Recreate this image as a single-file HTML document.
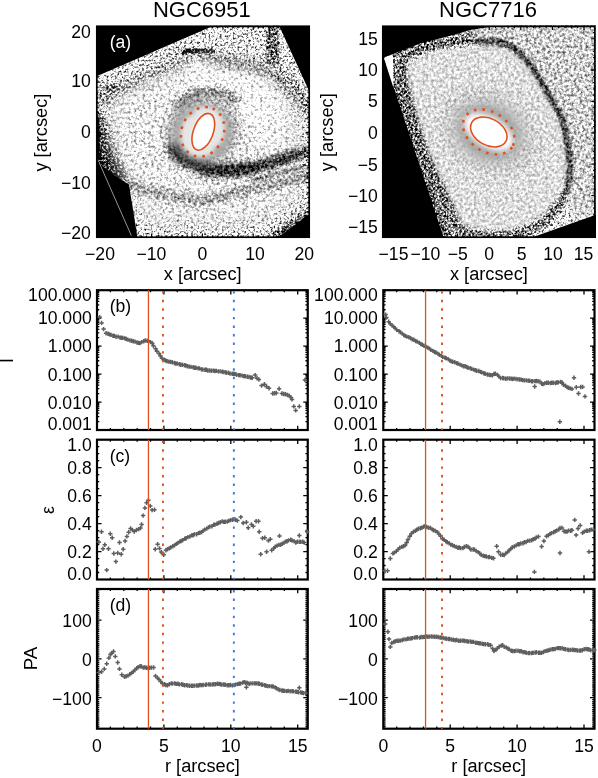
<!DOCTYPE html><html><head><meta charset="utf-8"><style>html,body{margin:0;padding:0;background:#fff;}svg{display:block;filter:blur(0.3px);}</style></head><body><svg width="598" height="778" viewBox="0 0 598 778" font-family='"Liberation Sans", sans-serif'><rect width="598" height="778" fill="#fff"/><defs><filter id="bl1" x="-50%" y="-50%" width="200%" height="200%"><feGaussianBlur stdDeviation="1"/></filter><filter id="bl2" x="-50%" y="-50%" width="200%" height="200%"><feGaussianBlur stdDeviation="2"/></filter><filter id="bl3" x="-50%" y="-50%" width="200%" height="200%"><feGaussianBlur stdDeviation="3"/></filter><filter id="bl5" x="-50%" y="-50%" width="200%" height="200%"><feGaussianBlur stdDeviation="5"/></filter><filter id="bl8" x="-50%" y="-50%" width="200%" height="200%"><feGaussianBlur stdDeviation="8"/></filter><filter id="bl12" x="-50%" y="-50%" width="200%" height="200%"><feGaussianBlur stdDeviation="12"/></filter></defs><defs><filter id="dLh" x="96" y="25.5" width="214" height="212.5" filterUnits="userSpaceOnUse" color-interpolation-filters="sRGB"><feTurbulence type="fractalNoise" baseFrequency="0.45" numOctaves="3" seed="5" result="n"/><feColorMatrix in="n" type="matrix" values="1 0 0 0 0 1 0 0 0 0 1 0 0 0 0 0 0 0 0 1" result="ng"/><feComposite in="SourceGraphic" in2="ng" operator="arithmetic" k1="0" k2="1" k3="1.5" k4="-0.75" result="s"/><feComponentTransfer in="s"><feFuncR type="linear" slope="1.8" intercept="-0.4"/><feFuncG type="linear" slope="1.8" intercept="-0.4"/><feFuncB type="linear" slope="1.8" intercept="-0.4"/><feFuncA type="linear" slope="0" intercept="1"/></feComponentTransfer><feGaussianBlur stdDeviation="0.5"/></filter><filter id="dLl" x="96" y="25.5" width="214" height="212.5" filterUnits="userSpaceOnUse" color-interpolation-filters="sRGB"><feTurbulence type="fractalNoise" baseFrequency="0.35" numOctaves="3" seed="6" result="n"/><feColorMatrix in="n" type="matrix" values="1 0 0 0 0 1 0 0 0 0 1 0 0 0 0 0 0 0 0 1" result="ng"/><feComposite in="SourceGraphic" in2="ng" operator="arithmetic" k1="0" k2="1" k3="1.0" k4="-0.5" result="s"/><feComponentTransfer in="s"><feFuncR type="linear" slope="1.5" intercept="-0.25"/><feFuncG type="linear" slope="1.5" intercept="-0.25"/><feFuncB type="linear" slope="1.5" intercept="-0.25"/><feFuncA type="linear" slope="0" intercept="1"/></feComponentTransfer><feGaussianBlur stdDeviation="0.5"/></filter><clipPath id="fpL"><polygon points="96,76.5 214,25.5 279,25.5 310,93 310,238 137.5,238 129,184.5 112,174 99,163 98.5,122 96,118"/></clipPath><clipPath id="boxL"><rect x="96" y="25.5" width="214" height="212.5"/></clipPath><radialGradient id="smLg" cx="0.5" cy="0.5" r="0.5"><stop offset="0.55" stop-color="#fff"/><stop offset="1" stop-color="#000"/></radialGradient><mask id="smL" maskUnits="userSpaceOnUse" x="96" y="25.5" width="214" height="212.5"><ellipse cx="203" cy="132" rx="44" ry="44" fill="url(#smLg)"/></mask><mask id="cmaskL" maskUnits="userSpaceOnUse" x="96" y="25.5" width="214" height="212.5"><polygon points="112,100 150,78 205,58 262,66 296,110 300,200 250,222 150,222 128,180 114,150" fill="#fff" filter="url(#bl8)"/></mask></defs><g clip-path="url(#boxL)"><rect x="96" y="25.5" width="214" height="212.5" fill="#000"/><g clip-path="url(#fpL)"><g filter="url(#dLh)"><rect x="96" y="25.5" width="214" height="212.5" fill="rgb(192,192,192)"/><path d="M100,100 L140,82 L185,62" fill="none" stroke="rgb(144,144,144)" stroke-width="16" stroke-linecap="round" stroke-linejoin="round" opacity="1" filter="url(#bl5)"/><path d="M105,90 L118,86" fill="none" stroke="rgb(102,102,102)" stroke-width="5" stroke-linecap="round" stroke-linejoin="round" opacity="1" filter="url(#bl2)"/><path d="M90,112 L104,118 L114,145 L130,184 L90,186Z" fill="rgb(97,97,97)" opacity="1" filter="url(#bl5)"/><path d="M90,145 L106,152 L118,160 L130,182 L90,190Z" fill="rgb(78,78,78)" opacity="1" filter="url(#bl3)"/><path d="M90,110 L98.5,112 L99.5,186 L90,186Z" fill="rgb(11,11,11)" opacity="1" filter="url(#bl1)"/><path d="M182,49 L214,49 L214,54 L182,54Z" fill="rgb(52,52,52)" opacity="1" filter="url(#bl1)"/><path d="M198,54 L215,54 L215,64 L198,64Z" fill="rgb(128,128,128)" opacity="1" filter="url(#bl2)"/><path d="M218,60 L250,66 L274,73 L295,92 L310,110" fill="none" stroke="rgb(141,141,141)" stroke-width="14" stroke-linecap="round" stroke-linejoin="round" opacity="1" filter="url(#bl5)"/><path d="M266,27 L279,27 L279,64 L266,64Z" fill="rgb(119,119,119)" opacity="1" filter="url(#bl1)"/><path d="M129,184 L157,194 L200,201 L246,191 L310,175" fill="none" stroke="rgb(136,136,136)" stroke-width="10" stroke-linecap="round" stroke-linejoin="round" opacity="1" filter="url(#bl3)"/><path d="M237,170 C255,168 280,160 310,151" fill="none" stroke="rgb(84,84,84)" stroke-width="9" stroke-linecap="round" stroke-linejoin="round" opacity="1" filter="url(#bl3)"/><path d="M252,181 L310,165" fill="none" stroke="rgb(108,108,108)" stroke-width="3" stroke-linecap="round" stroke-linejoin="round" opacity="1" filter="url(#bl1)"/><path d="M265,238 L310,208 L310,238Z" fill="rgb(102,102,102)" opacity="1" filter="url(#bl3)"/></g><g mask="url(#cmaskL)"><g filter="url(#dLl)"><rect x="96" y="25.5" width="214" height="212.5" fill="rgb(205,205,205)"/><path d="M185,61 L257,61 L283,80 L283,135 L230,140 L185,95Z" fill="rgb(218,218,218)" opacity="1" filter="url(#bl8)"/><path d="M129,184 L157,194 L200,201 L246,191 L310,175" fill="none" stroke="rgb(145,145,145)" stroke-width="9" stroke-linecap="round" stroke-linejoin="round" opacity="1" filter="url(#bl3)"/><path d="M205,170 C225,172 255,170 280,160 C292,156 302,153 310,151" fill="none" stroke="rgb(66,66,66)" stroke-width="11" stroke-linecap="round" stroke-linejoin="round" opacity="1" filter="url(#bl3)"/><path d="M252,181 L310,165" fill="none" stroke="rgb(111,111,111)" stroke-width="3" stroke-linecap="round" stroke-linejoin="round" opacity="1" filter="url(#bl1)"/><path d="M218,60 L250,66 L274,73 L295,92 L310,110" fill="none" stroke="rgb(148,148,148)" stroke-width="12" stroke-linecap="round" stroke-linejoin="round" opacity="1" filter="url(#bl5)"/><ellipse cx="0" cy="0" rx="40" ry="34" transform="translate(203,132) rotate(-20)" fill="rgb(166,166,166)" opacity="1" filter="url(#bl5)"/><path d="M180,103 C192,90 215,87 236,100" fill="none" stroke="rgb(131,131,131)" stroke-width="9" stroke-linecap="round" stroke-linejoin="round" opacity="1" filter="url(#bl3)"/><path d="M172,150 C185,168 215,174 250,168" fill="none" stroke="rgb(74,74,74)" stroke-width="10" stroke-linecap="round" stroke-linejoin="round" opacity="1" filter="url(#bl3)"/><ellipse cx="0" cy="0" rx="26" ry="22" transform="translate(202.7,131.8) rotate(-67)" fill="rgb(200,200,200)" opacity="1" filter="url(#bl2)"/><ellipse cx="0" cy="0" rx="19" ry="10.5" transform="translate(203.3,131.8) rotate(-70)" fill="rgb(255,255,255)" opacity="1" filter="url(#bl1)"/></g></g><g mask="url(#smL)"><ellipse cx="0" cy="0" rx="36" ry="33" transform="translate(200,134) rotate(-20)" fill="rgb(168,168,168)" opacity="1" filter="url(#bl5)"/><path d="M178,108 C188,92 212,86 238,100" fill="none" stroke="rgb(115,115,115)" stroke-width="10" stroke-linecap="round" stroke-linejoin="round" opacity="1" filter="url(#bl3)"/><path d="M174,148 C185,166 212,174 245,168" fill="none" stroke="rgb(64,64,64)" stroke-width="11" stroke-linecap="round" stroke-linejoin="round" opacity="1" filter="url(#bl3)"/><ellipse cx="0" cy="0" rx="26" ry="21.5" transform="translate(202.7,131.8) rotate(-67)" fill="rgb(230,230,230)" opacity="1" filter="url(#bl2)"/><ellipse cx="0" cy="0" rx="6" ry="4" transform="translate(188,112) rotate(0)" fill="rgb(178,178,178)" opacity="1" filter="url(#bl2)"/><ellipse cx="0" cy="0" rx="6" ry="4" transform="translate(220,150) rotate(0)" fill="rgb(166,166,166)" opacity="1" filter="url(#bl2)"/><ellipse cx="0" cy="0" rx="19" ry="10.5" transform="translate(203.3,131.8) rotate(-70)" fill="rgb(255,255,255)" opacity="1" filter="url(#bl1)"/></g></g><path d="M277,238 L310,213.8 L310,238Z" fill="#000"/><line x1="97.8" y1="159.5" x2="131.5" y2="236" stroke="#bbb" stroke-width="0.8"/><circle cx="198" cy="64.4" r="2.6" fill="#fff" filter="url(#bl1)"/><ellipse cx="0" cy="0" rx="19.2" ry="9.9" transform="translate(203.3,131.8) rotate(-70)" fill="none" stroke="#e0501e" stroke-width="1.6" opacity="1"/><ellipse cx="0" cy="0" rx="25.4" ry="21.0" transform="translate(202.65,131.84) rotate(-67)" fill="none" stroke="#e0501e" stroke-width="2.6" stroke-dasharray="2.6 6.0" opacity="1"/></g><defs><filter id="dRh" x="382" y="25.5" width="214" height="212.5" filterUnits="userSpaceOnUse" color-interpolation-filters="sRGB"><feTurbulence type="fractalNoise" baseFrequency="0.45" numOctaves="3" seed="9" result="n"/><feColorMatrix in="n" type="matrix" values="1 0 0 0 0 1 0 0 0 0 1 0 0 0 0 0 0 0 0 1" result="ng"/><feComposite in="SourceGraphic" in2="ng" operator="arithmetic" k1="0" k2="1" k3="1.5" k4="-0.75" result="s"/><feComponentTransfer in="s"><feFuncR type="linear" slope="1.8" intercept="-0.4"/><feFuncG type="linear" slope="1.8" intercept="-0.4"/><feFuncB type="linear" slope="1.8" intercept="-0.4"/><feFuncA type="linear" slope="0" intercept="1"/></feComponentTransfer><feGaussianBlur stdDeviation="0.5"/></filter><filter id="dRl" x="382" y="25.5" width="214" height="212.5" filterUnits="userSpaceOnUse" color-interpolation-filters="sRGB"><feTurbulence type="fractalNoise" baseFrequency="0.35" numOctaves="3" seed="10" result="n"/><feColorMatrix in="n" type="matrix" values="1 0 0 0 0 1 0 0 0 0 1 0 0 0 0 0 0 0 0 1" result="ng"/><feComposite in="SourceGraphic" in2="ng" operator="arithmetic" k1="0" k2="1" k3="0.6" k4="-0.3" result="s"/><feComponentTransfer in="s"><feFuncR type="linear" slope="1.3" intercept="-0.15000000000000002"/><feFuncG type="linear" slope="1.3" intercept="-0.15000000000000002"/><feFuncB type="linear" slope="1.3" intercept="-0.15000000000000002"/><feFuncA type="linear" slope="0" intercept="1"/></feComponentTransfer><feGaussianBlur stdDeviation="0.5"/></filter><filter id="dRm2" x="382" y="25.5" width="214" height="212.5" filterUnits="userSpaceOnUse" color-interpolation-filters="sRGB"><feTurbulence type="fractalNoise" baseFrequency="0.35" numOctaves="3" seed="12" result="n"/><feColorMatrix in="n" type="matrix" values="1 0 0 0 0 1 0 0 0 0 1 0 0 0 0 0 0 0 0 1" result="ng"/><feComposite in="SourceGraphic" in2="ng" operator="arithmetic" k1="0" k2="1" k3="1.0" k4="-0.5" result="s"/><feComponentTransfer in="s"><feFuncR type="linear" slope="1.5" intercept="-0.25"/><feFuncG type="linear" slope="1.5" intercept="-0.25"/><feFuncB type="linear" slope="1.5" intercept="-0.25"/><feFuncA type="linear" slope="0" intercept="1"/></feComponentTransfer><feGaussianBlur stdDeviation="0.5"/></filter><mask id="urR" maskUnits="userSpaceOnUse" x="382" y="25.5" width="214" height="212.5"><polygon points="470,20 600,20 600,210 575,215 560,160 548,105 520,60 480,48" fill="#fff" filter="url(#bl5)"/></mask><clipPath id="fpR"><polygon points="383.8,57.5 420,43.4 453,35 470,30 487,27.4 504,26 520,25 596,25 596,214.7 530.5,238 443.8,238"/></clipPath><clipPath id="boxR"><rect x="382" y="25.5" width="214" height="212.5"/></clipPath><radialGradient id="smRg" cx="0.5" cy="0.5" r="0.5"><stop offset="0.45" stop-color="#fff"/><stop offset="1" stop-color="#000"/></radialGradient><mask id="smR" maskUnits="userSpaceOnUse" x="382" y="25.5" width="214" height="212.5"><ellipse cx="489" cy="132" rx="50" ry="44" fill="url(#smRg)"/></mask><mask id="cmaskR" maskUnits="userSpaceOnUse" x="382" y="25.5" width="214" height="212.5"><path d="M402.0,62.0 C404.3,55.3 411.4,53.2 420.0,50.0 C428.6,46.8 442.0,43.9 453.6,42.5 C465.2,41.1 480.7,41.2 489.4,41.5 C498.1,41.8 500.4,41.5 506.0,44.0 C511.6,46.5 517.6,51.1 522.8,56.3 C528.0,61.5 532.4,68.0 537.0,75.0 C541.6,82.0 546.6,91.9 550.4,98.6 C554.2,105.3 557.4,108.9 560.0,115.0 C562.6,121.1 564.5,128.3 566.0,135.0 C567.5,141.7 568.5,147.8 569.0,155.0 C569.5,162.2 570.2,170.5 569.0,178.0 C567.8,185.5 565.5,193.3 562.0,200.0 C558.5,206.7 553.0,213.2 548.0,218.0 C543.0,222.8 538.3,226.2 532.0,229.0 C525.7,231.8 517.2,233.8 510.0,235.0 C502.8,236.2 496.3,237.0 489.0,236.5 C481.7,236.0 471.2,233.6 466.0,232.0 C460.8,230.4 460.5,230.7 458.0,227.0 C455.5,223.3 453.7,216.2 451.0,210.0 C448.3,203.8 445.2,196.8 442.0,190.0 C438.8,183.2 435.2,176.0 432.0,169.0 C428.8,162.0 426.0,156.5 423.0,148.0 C420.0,139.5 416.8,127.7 414.0,118.0 C411.2,108.3 408.0,99.3 406.0,90.0 C404.0,80.7 399.7,68.7 402.0,62.0Z" fill="#fff" transform="translate(490,140) scale(0.93) translate(-490,-140)" filter="url(#bl3)"/></mask></defs><g clip-path="url(#boxR)"><rect x="382" y="25.5" width="214" height="212.5" fill="#000"/><g clip-path="url(#fpR)"><g filter="url(#dRh)"><rect x="382" y="25.5" width="214" height="212.5" fill="rgb(194,194,194)"/><path d="M388,62 L398,95 L411,140 L429,190 L446,238" fill="none" stroke="rgb(115,115,115)" stroke-width="16" stroke-linecap="round" stroke-linejoin="round" opacity="1" filter="url(#bl3)"/><path d="M392,56 L440,40 L482,28" fill="none" stroke="rgb(136,136,136)" stroke-width="14" stroke-linecap="round" stroke-linejoin="round" opacity="1" filter="url(#bl3)"/><path d="M402.0,62.0 C404.3,55.3 411.4,53.2 420.0,50.0 C428.6,46.8 442.0,43.9 453.6,42.5 C465.2,41.1 480.7,41.2 489.4,41.5 C498.1,41.8 500.4,41.5 506.0,44.0 C511.6,46.5 517.6,51.1 522.8,56.3 C528.0,61.5 532.4,68.0 537.0,75.0 C541.6,82.0 546.6,91.9 550.4,98.6 C554.2,105.3 557.4,108.9 560.0,115.0 C562.6,121.1 564.5,128.3 566.0,135.0 C567.5,141.7 568.5,147.8 569.0,155.0 C569.5,162.2 570.2,170.5 569.0,178.0 C567.8,185.5 565.5,193.3 562.0,200.0 C558.5,206.7 553.0,213.2 548.0,218.0 C543.0,222.8 538.3,226.2 532.0,229.0 C525.7,231.8 517.2,233.8 510.0,235.0 C502.8,236.2 496.3,237.0 489.0,236.5 C481.7,236.0 471.2,233.6 466.0,232.0 C460.8,230.4 460.5,230.7 458.0,227.0 C455.5,223.3 453.7,216.2 451.0,210.0 C448.3,203.8 445.2,196.8 442.0,190.0 C438.8,183.2 435.2,176.0 432.0,169.0 C428.8,162.0 426.0,156.5 423.0,148.0 C420.0,139.5 416.8,127.7 414.0,118.0 C411.2,108.3 408.0,99.3 406.0,90.0 C404.0,80.7 399.7,68.7 402.0,62.0Z" fill="none" stroke="rgb(115,115,115)" stroke-width="6" filter="url(#bl1)"/><path d="M458.0,227.0 C456.8,224.2 453.7,216.2 451.0,210.0 C448.3,203.8 445.2,196.8 442.0,190.0 C438.8,183.2 435.2,176.0 432.0,169.0 C428.8,162.0 426.0,156.5 423.0,148.0 C420.0,139.5 416.8,127.7 414.0,118.0 C411.2,108.3 408.0,99.3 406.0,90.0 C404.0,80.7 402.7,66.7 402.0,62.0" fill="none" stroke="rgb(119,119,119)" stroke-width="12" filter="url(#bl2)"/><path d="M562.0,200.0 C559.7,203.0 553.0,213.2 548.0,218.0 C543.0,222.8 538.3,226.2 532.0,229.0 C525.7,231.8 517.2,233.8 510.0,235.0 C502.8,236.2 496.3,237.0 489.0,236.5 C481.7,236.0 471.2,233.6 466.0,232.0 C460.8,230.4 459.3,227.8 458.0,227.0" fill="none" stroke="rgb(128,128,128)" stroke-width="10" filter="url(#bl2)"/></g><g mask="url(#urR)"><g filter="url(#dRm2)"><rect x="382" y="25.5" width="214" height="212.5" fill="rgb(182,182,182)"/><path d="M402.0,62.0 C404.3,55.3 411.4,53.2 420.0,50.0 C428.6,46.8 442.0,43.9 453.6,42.5 C465.2,41.1 480.7,41.2 489.4,41.5 C498.1,41.8 500.4,41.5 506.0,44.0 C511.6,46.5 517.6,51.1 522.8,56.3 C528.0,61.5 532.4,68.0 537.0,75.0 C541.6,82.0 546.6,91.9 550.4,98.6 C554.2,105.3 557.4,108.9 560.0,115.0 C562.6,121.1 564.5,128.3 566.0,135.0 C567.5,141.7 568.5,147.8 569.0,155.0 C569.5,162.2 570.2,170.5 569.0,178.0 C567.8,185.5 565.5,193.3 562.0,200.0 C558.5,206.7 553.0,213.2 548.0,218.0 C543.0,222.8 538.3,226.2 532.0,229.0 C525.7,231.8 517.2,233.8 510.0,235.0 C502.8,236.2 496.3,237.0 489.0,236.5 C481.7,236.0 471.2,233.6 466.0,232.0 C460.8,230.4 460.5,230.7 458.0,227.0 C455.5,223.3 453.7,216.2 451.0,210.0 C448.3,203.8 445.2,196.8 442.0,190.0 C438.8,183.2 435.2,176.0 432.0,169.0 C428.8,162.0 426.0,156.5 423.0,148.0 C420.0,139.5 416.8,127.7 414.0,118.0 C411.2,108.3 408.0,99.3 406.0,90.0 C404.0,80.7 399.7,68.7 402.0,62.0Z" fill="none" stroke="rgb(93,93,93)" stroke-width="7" filter="url(#bl1)"/></g></g><g mask="url(#cmaskR)"><g filter="url(#dRl)"><rect x="382" y="25.5" width="214" height="212.5" fill="rgb(201,201,201)"/><ellipse cx="0" cy="0" rx="50" ry="38" transform="translate(489,132) rotate(30)" fill="rgb(183,183,183)" opacity="1" filter="url(#bl8)"/><ellipse cx="0" cy="0" rx="31" ry="23" transform="translate(489,132) rotate(32)" fill="rgb(163,163,163)" opacity="1" filter="url(#bl3)"/><ellipse cx="0" cy="0" rx="22" ry="15" transform="translate(488.8,132) rotate(30)" fill="rgb(255,255,255)" opacity="1" filter="url(#bl2)"/></g></g><g mask="url(#smR)"><ellipse cx="0" cy="0" rx="52" ry="40" transform="translate(489,132) rotate(30)" fill="rgb(204,204,204)" opacity="1" filter="url(#bl8)"/><ellipse cx="0" cy="0" rx="36" ry="27" transform="translate(489,132) rotate(32)" fill="rgb(163,163,163)" opacity="1" filter="url(#bl5)"/><ellipse cx="0" cy="0" rx="28" ry="15" transform="translate(488.8,132) rotate(31)" fill="rgb(255,255,255)" opacity="1" filter="url(#bl3)"/><ellipse cx="0" cy="0" rx="20" ry="13.5" transform="translate(488.8,132) rotate(29)" fill="rgb(255,255,255)" opacity="1" filter="url(#bl1)"/></g></g><path d="M383.8,57.5 L393,55.5 L393.5,88Z" fill="#fff"/><ellipse cx="0" cy="0" rx="19.5" ry="13.3" transform="translate(488.8,132) rotate(28.8)" fill="none" stroke="#e0501e" stroke-width="1.6" opacity="1"/><ellipse cx="0" cy="0" rx="27.9" ry="19.8" transform="translate(488.7,131.9) rotate(33.3)" fill="none" stroke="#e0501e" stroke-width="2.6" stroke-dasharray="2.6 6.0" opacity="1"/></g><path d="M100.80 237.20v-3.6M100.80 26.40v3.6M96.80 232.80h3.6M309.20 232.80h-3.6M105.88 237.20v-1.8M105.88 26.40v1.8M96.80 227.78h1.8M309.20 227.78h-1.8M110.96 237.20v-1.8M110.96 26.40v1.8M96.80 222.76h1.8M309.20 222.76h-1.8M116.04 237.20v-1.8M116.04 26.40v1.8M96.80 217.74h1.8M309.20 217.74h-1.8M121.12 237.20v-1.8M121.12 26.40v1.8M96.80 212.72h1.8M309.20 212.72h-1.8M126.20 237.20v-1.8M126.20 26.40v1.8M96.80 207.70h1.8M309.20 207.70h-1.8M131.28 237.20v-1.8M131.28 26.40v1.8M96.80 202.68h1.8M309.20 202.68h-1.8M136.36 237.20v-1.8M136.36 26.40v1.8M96.80 197.66h1.8M309.20 197.66h-1.8M141.44 237.20v-1.8M141.44 26.40v1.8M96.80 192.64h1.8M309.20 192.64h-1.8M146.52 237.20v-1.8M146.52 26.40v1.8M96.80 187.62h1.8M309.20 187.62h-1.8M151.60 237.20v-3.6M151.60 26.40v3.6M96.80 182.60h3.6M309.20 182.60h-3.6M156.68 237.20v-1.8M156.68 26.40v1.8M96.80 177.58h1.8M309.20 177.58h-1.8M161.76 237.20v-1.8M161.76 26.40v1.8M96.80 172.56h1.8M309.20 172.56h-1.8M166.84 237.20v-1.8M166.84 26.40v1.8M96.80 167.54h1.8M309.20 167.54h-1.8M171.92 237.20v-1.8M171.92 26.40v1.8M96.80 162.52h1.8M309.20 162.52h-1.8M177.00 237.20v-1.8M177.00 26.40v1.8M96.80 157.50h1.8M309.20 157.50h-1.8M182.08 237.20v-1.8M182.08 26.40v1.8M96.80 152.48h1.8M309.20 152.48h-1.8M187.16 237.20v-1.8M187.16 26.40v1.8M96.80 147.46h1.8M309.20 147.46h-1.8M192.24 237.20v-1.8M192.24 26.40v1.8M96.80 142.44h1.8M309.20 142.44h-1.8M197.32 237.20v-1.8M197.32 26.40v1.8M96.80 137.42h1.8M309.20 137.42h-1.8M202.40 237.20v-3.6M202.40 26.40v3.6M96.80 132.40h3.6M309.20 132.40h-3.6M207.48 237.20v-1.8M207.48 26.40v1.8M96.80 127.38h1.8M309.20 127.38h-1.8M212.56 237.20v-1.8M212.56 26.40v1.8M96.80 122.36h1.8M309.20 122.36h-1.8M217.64 237.20v-1.8M217.64 26.40v1.8M96.80 117.34h1.8M309.20 117.34h-1.8M222.72 237.20v-1.8M222.72 26.40v1.8M96.80 112.32h1.8M309.20 112.32h-1.8M227.80 237.20v-1.8M227.80 26.40v1.8M96.80 107.30h1.8M309.20 107.30h-1.8M232.88 237.20v-1.8M232.88 26.40v1.8M96.80 102.28h1.8M309.20 102.28h-1.8M237.96 237.20v-1.8M237.96 26.40v1.8M96.80 97.26h1.8M309.20 97.26h-1.8M243.04 237.20v-1.8M243.04 26.40v1.8M96.80 92.24h1.8M309.20 92.24h-1.8M248.12 237.20v-1.8M248.12 26.40v1.8M96.80 87.22h1.8M309.20 87.22h-1.8M253.20 237.20v-3.6M253.20 26.40v3.6M96.80 82.20h3.6M309.20 82.20h-3.6M258.28 237.20v-1.8M258.28 26.40v1.8M96.80 77.18h1.8M309.20 77.18h-1.8M263.36 237.20v-1.8M263.36 26.40v1.8M96.80 72.16h1.8M309.20 72.16h-1.8M268.44 237.20v-1.8M268.44 26.40v1.8M96.80 67.14h1.8M309.20 67.14h-1.8M273.52 237.20v-1.8M273.52 26.40v1.8M96.80 62.12h1.8M309.20 62.12h-1.8M278.60 237.20v-1.8M278.60 26.40v1.8M96.80 57.10h1.8M309.20 57.10h-1.8M283.68 237.20v-1.8M283.68 26.40v1.8M96.80 52.08h1.8M309.20 52.08h-1.8M288.76 237.20v-1.8M288.76 26.40v1.8M96.80 47.06h1.8M309.20 47.06h-1.8M293.84 237.20v-1.8M293.84 26.40v1.8M96.80 42.04h1.8M309.20 42.04h-1.8M298.92 237.20v-1.8M298.92 26.40v1.8M96.80 37.02h1.8M309.20 37.02h-1.8M304.00 237.20v-3.6M304.00 26.40v3.6M96.80 32.00h3.6M309.20 32.00h-3.6" stroke="#000" stroke-width="1.2" fill="none"/><rect x="96.80" y="26.40" width="212.40" height="210.80" fill="none" stroke="#000" stroke-width="1.7"/><path d="M388.08 237.20v-1.8M388.08 26.40v1.8M382.80 233.12h1.8M594.90 233.12h-1.8M394.40 237.20v-3.6M394.40 26.40v3.6M382.80 226.85h3.6M594.90 226.85h-3.6M400.72 237.20v-1.8M400.72 26.40v1.8M382.80 220.58h1.8M594.90 220.58h-1.8M407.04 237.20v-1.8M407.04 26.40v1.8M382.80 214.31h1.8M594.90 214.31h-1.8M413.36 237.20v-1.8M413.36 26.40v1.8M382.80 208.04h1.8M594.90 208.04h-1.8M419.68 237.20v-1.8M419.68 26.40v1.8M382.80 201.77h1.8M594.90 201.77h-1.8M426.00 237.20v-3.6M426.00 26.40v3.6M382.80 195.50h3.6M594.90 195.50h-3.6M432.32 237.20v-1.8M432.32 26.40v1.8M382.80 189.23h1.8M594.90 189.23h-1.8M438.64 237.20v-1.8M438.64 26.40v1.8M382.80 182.96h1.8M594.90 182.96h-1.8M444.96 237.20v-1.8M444.96 26.40v1.8M382.80 176.69h1.8M594.90 176.69h-1.8M451.28 237.20v-1.8M451.28 26.40v1.8M382.80 170.42h1.8M594.90 170.42h-1.8M457.60 237.20v-3.6M457.60 26.40v3.6M382.80 164.15h3.6M594.90 164.15h-3.6M463.92 237.20v-1.8M463.92 26.40v1.8M382.80 157.88h1.8M594.90 157.88h-1.8M470.24 237.20v-1.8M470.24 26.40v1.8M382.80 151.61h1.8M594.90 151.61h-1.8M476.56 237.20v-1.8M476.56 26.40v1.8M382.80 145.34h1.8M594.90 145.34h-1.8M482.88 237.20v-1.8M482.88 26.40v1.8M382.80 139.07h1.8M594.90 139.07h-1.8M489.20 237.20v-3.6M489.20 26.40v3.6M382.80 132.80h3.6M594.90 132.80h-3.6M495.52 237.20v-1.8M495.52 26.40v1.8M382.80 126.53h1.8M594.90 126.53h-1.8M501.84 237.20v-1.8M501.84 26.40v1.8M382.80 120.26h1.8M594.90 120.26h-1.8M508.16 237.20v-1.8M508.16 26.40v1.8M382.80 113.99h1.8M594.90 113.99h-1.8M514.48 237.20v-1.8M514.48 26.40v1.8M382.80 107.72h1.8M594.90 107.72h-1.8M520.80 237.20v-3.6M520.80 26.40v3.6M382.80 101.45h3.6M594.90 101.45h-3.6M527.12 237.20v-1.8M527.12 26.40v1.8M382.80 95.18h1.8M594.90 95.18h-1.8M533.44 237.20v-1.8M533.44 26.40v1.8M382.80 88.91h1.8M594.90 88.91h-1.8M539.76 237.20v-1.8M539.76 26.40v1.8M382.80 82.64h1.8M594.90 82.64h-1.8M546.08 237.20v-1.8M546.08 26.40v1.8M382.80 76.37h1.8M594.90 76.37h-1.8M552.40 237.20v-3.6M552.40 26.40v3.6M382.80 70.10h3.6M594.90 70.10h-3.6M558.72 237.20v-1.8M558.72 26.40v1.8M382.80 63.83h1.8M594.90 63.83h-1.8M565.04 237.20v-1.8M565.04 26.40v1.8M382.80 57.56h1.8M594.90 57.56h-1.8M571.36 237.20v-1.8M571.36 26.40v1.8M382.80 51.29h1.8M594.90 51.29h-1.8M577.68 237.20v-1.8M577.68 26.40v1.8M382.80 45.02h1.8M594.90 45.02h-1.8M584.00 237.20v-3.6M584.00 26.40v3.6M382.80 38.75h3.6M594.90 38.75h-3.6M590.32 237.20v-1.8M590.32 26.40v1.8M382.80 32.48h1.8M594.90 32.48h-1.8" stroke="#000" stroke-width="1.2" fill="none"/><rect x="382.80" y="26.40" width="212.10" height="210.80" fill="none" stroke="#000" stroke-width="1.7"/><text transform="translate(201.80,17.20) scale(1.0,1)" font-size="22" text-anchor="middle" fill="#000" >NGC6951</text><text transform="translate(488.00,17.20) scale(1.0,1)" font-size="22" text-anchor="middle" fill="#000" >NGC7716</text><text transform="translate(90.80,38.30) scale(1.0,1)" font-size="17.6" text-anchor="end" fill="#000" >20</text><text transform="translate(90.80,87.20) scale(1.0,1)" font-size="17.6" text-anchor="end" fill="#000" >10</text><text transform="translate(90.80,138.40) scale(1.0,1)" font-size="17.6" text-anchor="end" fill="#000" >0</text><text transform="translate(90.80,189.40) scale(1.0,1)" font-size="17.6" text-anchor="end" fill="#000" >−10</text><text transform="translate(90.80,238.80) scale(1.0,1)" font-size="17.6" text-anchor="end" fill="#000" >−20</text><text transform="translate(100.00,259.80) scale(1.0,1)" font-size="17.6" text-anchor="middle" fill="#000" >−20</text><text transform="translate(151.30,259.80) scale(1.0,1)" font-size="17.6" text-anchor="middle" fill="#000" >−10</text><text transform="translate(202.40,259.80) scale(1.0,1)" font-size="17.6" text-anchor="middle" fill="#000" >0</text><text transform="translate(255.00,259.80) scale(1.0,1)" font-size="17.6" text-anchor="middle" fill="#000" >10</text><text transform="translate(304.30,259.80) scale(1.0,1)" font-size="17.6" text-anchor="middle" fill="#000" >20</text><text transform="translate(202.70,280.00) scale(1.035,1)" font-size="17.6" text-anchor="middle" fill="#000" >x [arcsec]</text><text transform="translate(47.20,132.60) rotate(-90) scale(1.035,1)" font-size="17.6" text-anchor="middle" fill="#000" >y [arcsec]</text><text transform="translate(377.90,44.80) scale(1.0,1)" font-size="17.6" text-anchor="end" fill="#000" >15</text><text transform="translate(377.90,75.90) scale(1.0,1)" font-size="17.6" text-anchor="end" fill="#000" >10</text><text transform="translate(377.90,107.00) scale(1.0,1)" font-size="17.6" text-anchor="end" fill="#000" >5</text><text transform="translate(377.90,138.80) scale(1.0,1)" font-size="17.6" text-anchor="end" fill="#000" >0</text><text transform="translate(377.90,170.50) scale(1.0,1)" font-size="17.6" text-anchor="end" fill="#000" >−5</text><text transform="translate(377.90,201.70) scale(1.0,1)" font-size="17.6" text-anchor="end" fill="#000" >−10</text><text transform="translate(377.90,232.90) scale(1.0,1)" font-size="17.6" text-anchor="end" fill="#000" >−15</text><text transform="translate(393.50,259.80) scale(1.0,1)" font-size="17.6" text-anchor="middle" fill="#000" >−15</text><text transform="translate(425.30,259.80) scale(1.0,1)" font-size="17.6" text-anchor="middle" fill="#000" >−10</text><text transform="translate(457.70,259.80) scale(1.0,1)" font-size="17.6" text-anchor="middle" fill="#000" >−5</text><text transform="translate(489.20,259.80) scale(1.0,1)" font-size="17.6" text-anchor="middle" fill="#000" >0</text><text transform="translate(521.60,259.80) scale(1.0,1)" font-size="17.6" text-anchor="middle" fill="#000" >5</text><text transform="translate(553.00,259.80) scale(1.0,1)" font-size="17.6" text-anchor="middle" fill="#000" >10</text><text transform="translate(583.50,259.80) scale(1.0,1)" font-size="17.6" text-anchor="middle" fill="#000" >15</text><text transform="translate(488.90,280.00) scale(1.035,1)" font-size="17.6" text-anchor="middle" fill="#000" >x [arcsec]</text><text transform="translate(333.20,132.20) rotate(-90) scale(1.035,1)" font-size="17.6" text-anchor="middle" fill="#000" >y [arcsec]</text><path d="M163.90 430.00v-4.2M163.90 290.20v4.2M230.80 430.00v-4.2M230.80 290.20v4.2M297.70 430.00v-4.2M297.70 290.20v4.2M110.38 430.00v-2.1M110.38 290.20v2.1M123.76 430.00v-2.1M123.76 290.20v2.1M137.14 430.00v-2.1M137.14 290.20v2.1M150.52 430.00v-2.1M150.52 290.20v2.1M177.28 430.00v-2.1M177.28 290.20v2.1M190.66 430.00v-2.1M190.66 290.20v2.1M204.04 430.00v-2.1M204.04 290.20v2.1M217.42 430.00v-2.1M217.42 290.20v2.1M244.18 430.00v-2.1M244.18 290.20v2.1M257.56 430.00v-2.1M257.56 290.20v2.1M270.94 430.00v-2.1M270.94 290.20v2.1M284.32 430.00v-2.1M284.32 290.20v2.1M97.00 402.04h4.5M307.75 402.04h-4.5M97.00 374.08h4.5M307.75 374.08h-4.5M97.00 346.12h4.5M307.75 346.12h-4.5M97.00 318.16h4.5M307.75 318.16h-4.5M97.00 421.58h2.3M307.75 421.58h-2.3M97.00 416.66h2.3M307.75 416.66h-2.3M97.00 413.17h2.3M307.75 413.17h-2.3M97.00 410.46h2.3M307.75 410.46h-2.3M97.00 408.24h2.3M307.75 408.24h-2.3M97.00 406.37h2.3M307.75 406.37h-2.3M97.00 404.75h2.3M307.75 404.75h-2.3M97.00 403.32h2.3M307.75 403.32h-2.3M97.00 393.62h2.3M307.75 393.62h-2.3M97.00 388.70h2.3M307.75 388.70h-2.3M97.00 385.21h2.3M307.75 385.21h-2.3M97.00 382.50h2.3M307.75 382.50h-2.3M97.00 380.28h2.3M307.75 380.28h-2.3M97.00 378.41h2.3M307.75 378.41h-2.3M97.00 376.79h2.3M307.75 376.79h-2.3M97.00 375.36h2.3M307.75 375.36h-2.3M97.00 365.66h2.3M307.75 365.66h-2.3M97.00 360.74h2.3M307.75 360.74h-2.3M97.00 357.25h2.3M307.75 357.25h-2.3M97.00 354.54h2.3M307.75 354.54h-2.3M97.00 352.32h2.3M307.75 352.32h-2.3M97.00 350.45h2.3M307.75 350.45h-2.3M97.00 348.83h2.3M307.75 348.83h-2.3M97.00 347.40h2.3M307.75 347.40h-2.3M97.00 337.70h2.3M307.75 337.70h-2.3M97.00 332.78h2.3M307.75 332.78h-2.3M97.00 329.29h2.3M307.75 329.29h-2.3M97.00 326.58h2.3M307.75 326.58h-2.3M97.00 324.36h2.3M307.75 324.36h-2.3M97.00 322.49h2.3M307.75 322.49h-2.3M97.00 320.87h2.3M307.75 320.87h-2.3M97.00 319.44h2.3M307.75 319.44h-2.3M97.00 309.74h2.3M307.75 309.74h-2.3M97.00 304.82h2.3M307.75 304.82h-2.3M97.00 301.33h2.3M307.75 301.33h-2.3M97.00 298.62h2.3M307.75 298.62h-2.3M97.00 296.40h2.3M307.75 296.40h-2.3M97.00 294.53h2.3M307.75 294.53h-2.3M97.00 292.91h2.3M307.75 292.91h-2.3M97.00 291.48h2.3M307.75 291.48h-2.3" stroke="#000" stroke-width="1.3" fill="none"/><rect x="97.00" y="290.20" width="210.75" height="139.80" fill="none" stroke="#000" stroke-width="2.2"/><path d="M163.90 579.50v-4.2M163.90 439.70v4.2M230.80 579.50v-4.2M230.80 439.70v4.2M297.70 579.50v-4.2M297.70 439.70v4.2M110.38 579.50v-2.1M110.38 439.70v2.1M123.76 579.50v-2.1M123.76 439.70v2.1M137.14 579.50v-2.1M137.14 439.70v2.1M150.52 579.50v-2.1M150.52 439.70v2.1M177.28 579.50v-2.1M177.28 439.70v2.1M190.66 579.50v-2.1M190.66 439.70v2.1M204.04 579.50v-2.1M204.04 439.70v2.1M217.42 579.50v-2.1M217.42 439.70v2.1M244.18 579.50v-2.1M244.18 439.70v2.1M257.56 579.50v-2.1M257.56 439.70v2.1M270.94 579.50v-2.1M270.94 439.70v2.1M284.32 579.50v-2.1M284.32 439.70v2.1M97.00 551.54h4.5M307.75 551.54h-4.5M97.00 523.58h4.5M307.75 523.58h-4.5M97.00 495.62h4.5M307.75 495.62h-4.5M97.00 467.66h4.5M307.75 467.66h-4.5M97.00 572.51h2.3M307.75 572.51h-2.3M97.00 565.52h2.3M307.75 565.52h-2.3M97.00 558.53h2.3M307.75 558.53h-2.3M97.00 544.55h2.3M307.75 544.55h-2.3M97.00 537.56h2.3M307.75 537.56h-2.3M97.00 530.57h2.3M307.75 530.57h-2.3M97.00 516.59h2.3M307.75 516.59h-2.3M97.00 509.60h2.3M307.75 509.60h-2.3M97.00 502.61h2.3M307.75 502.61h-2.3M97.00 488.63h2.3M307.75 488.63h-2.3M97.00 481.64h2.3M307.75 481.64h-2.3M97.00 474.65h2.3M307.75 474.65h-2.3M97.00 460.67h2.3M307.75 460.67h-2.3M97.00 453.68h2.3M307.75 453.68h-2.3M97.00 446.69h2.3M307.75 446.69h-2.3" stroke="#000" stroke-width="1.3" fill="none"/><rect x="97.00" y="439.70" width="210.75" height="139.80" fill="none" stroke="#000" stroke-width="2.2"/><path d="M163.90 728.70v-4.2M163.90 589.00v4.2M230.80 728.70v-4.2M230.80 589.00v4.2M297.70 728.70v-4.2M297.70 589.00v4.2M110.38 728.70v-2.1M110.38 589.00v2.1M123.76 728.70v-2.1M123.76 589.00v2.1M137.14 728.70v-2.1M137.14 589.00v2.1M150.52 728.70v-2.1M150.52 589.00v2.1M177.28 728.70v-2.1M177.28 589.00v2.1M190.66 728.70v-2.1M190.66 589.00v2.1M204.04 728.70v-2.1M204.04 589.00v2.1M217.42 728.70v-2.1M217.42 589.00v2.1M244.18 728.70v-2.1M244.18 589.00v2.1M257.56 728.70v-2.1M257.56 589.00v2.1M270.94 728.70v-2.1M270.94 589.00v2.1M284.32 728.70v-2.1M284.32 589.00v2.1M97.00 697.66h4.5M307.75 697.66h-4.5M97.00 658.85h4.5M307.75 658.85h-4.5M97.00 620.04h4.5M307.75 620.04h-4.5M97.00 726.76h2.3M307.75 726.76h-2.3M97.00 724.82h2.3M307.75 724.82h-2.3M97.00 722.88h2.3M307.75 722.88h-2.3M97.00 720.94h2.3M307.75 720.94h-2.3M97.00 719.00h2.3M307.75 719.00h-2.3M97.00 717.06h2.3M307.75 717.06h-2.3M97.00 715.12h2.3M307.75 715.12h-2.3M97.00 713.18h2.3M307.75 713.18h-2.3M97.00 711.24h2.3M307.75 711.24h-2.3M97.00 709.30h2.3M307.75 709.30h-2.3M97.00 707.36h2.3M307.75 707.36h-2.3M97.00 705.42h2.3M307.75 705.42h-2.3M97.00 703.48h2.3M307.75 703.48h-2.3M97.00 701.54h2.3M307.75 701.54h-2.3M97.00 699.60h2.3M307.75 699.60h-2.3M97.00 695.72h2.3M307.75 695.72h-2.3M97.00 693.78h2.3M307.75 693.78h-2.3M97.00 691.83h2.3M307.75 691.83h-2.3M97.00 689.89h2.3M307.75 689.89h-2.3M97.00 687.95h2.3M307.75 687.95h-2.3M97.00 686.01h2.3M307.75 686.01h-2.3M97.00 684.07h2.3M307.75 684.07h-2.3M97.00 682.13h2.3M307.75 682.13h-2.3M97.00 680.19h2.3M307.75 680.19h-2.3M97.00 678.25h2.3M307.75 678.25h-2.3M97.00 676.31h2.3M307.75 676.31h-2.3M97.00 674.37h2.3M307.75 674.37h-2.3M97.00 672.43h2.3M307.75 672.43h-2.3M97.00 670.49h2.3M307.75 670.49h-2.3M97.00 668.55h2.3M307.75 668.55h-2.3M97.00 666.61h2.3M307.75 666.61h-2.3M97.00 664.67h2.3M307.75 664.67h-2.3M97.00 662.73h2.3M307.75 662.73h-2.3M97.00 660.79h2.3M307.75 660.79h-2.3M97.00 656.91h2.3M307.75 656.91h-2.3M97.00 654.97h2.3M307.75 654.97h-2.3M97.00 653.03h2.3M307.75 653.03h-2.3M97.00 651.09h2.3M307.75 651.09h-2.3M97.00 649.15h2.3M307.75 649.15h-2.3M97.00 647.21h2.3M307.75 647.21h-2.3M97.00 645.27h2.3M307.75 645.27h-2.3M97.00 643.33h2.3M307.75 643.33h-2.3M97.00 641.39h2.3M307.75 641.39h-2.3M97.00 639.45h2.3M307.75 639.45h-2.3M97.00 637.51h2.3M307.75 637.51h-2.3M97.00 635.57h2.3M307.75 635.57h-2.3M97.00 633.63h2.3M307.75 633.63h-2.3M97.00 631.69h2.3M307.75 631.69h-2.3M97.00 629.75h2.3M307.75 629.75h-2.3M97.00 627.81h2.3M307.75 627.81h-2.3M97.00 625.87h2.3M307.75 625.87h-2.3M97.00 623.92h2.3M307.75 623.92h-2.3M97.00 621.98h2.3M307.75 621.98h-2.3M97.00 618.10h2.3M307.75 618.10h-2.3M97.00 616.16h2.3M307.75 616.16h-2.3M97.00 614.22h2.3M307.75 614.22h-2.3M97.00 612.28h2.3M307.75 612.28h-2.3M97.00 610.34h2.3M307.75 610.34h-2.3M97.00 608.40h2.3M307.75 608.40h-2.3M97.00 606.46h2.3M307.75 606.46h-2.3M97.00 604.52h2.3M307.75 604.52h-2.3M97.00 602.58h2.3M307.75 602.58h-2.3M97.00 600.64h2.3M307.75 600.64h-2.3M97.00 598.70h2.3M307.75 598.70h-2.3M97.00 596.76h2.3M307.75 596.76h-2.3M97.00 594.82h2.3M307.75 594.82h-2.3M97.00 592.88h2.3M307.75 592.88h-2.3M97.00 590.94h2.3M307.75 590.94h-2.3" stroke="#000" stroke-width="1.3" fill="none"/><rect x="97.00" y="589.00" width="210.75" height="139.70" fill="none" stroke="#000" stroke-width="2.2"/><path d="M450.20 430.00v-4.2M450.20 290.20v4.2M517.10 430.00v-4.2M517.10 290.20v4.2M584.00 430.00v-4.2M584.00 290.20v4.2M396.68 430.00v-2.1M396.68 290.20v2.1M410.06 430.00v-2.1M410.06 290.20v2.1M423.44 430.00v-2.1M423.44 290.20v2.1M436.82 430.00v-2.1M436.82 290.20v2.1M463.58 430.00v-2.1M463.58 290.20v2.1M476.96 430.00v-2.1M476.96 290.20v2.1M490.34 430.00v-2.1M490.34 290.20v2.1M503.72 430.00v-2.1M503.72 290.20v2.1M530.48 430.00v-2.1M530.48 290.20v2.1M543.86 430.00v-2.1M543.86 290.20v2.1M557.24 430.00v-2.1M557.24 290.20v2.1M570.62 430.00v-2.1M570.62 290.20v2.1M383.30 402.04h4.5M594.50 402.04h-4.5M383.30 374.08h4.5M594.50 374.08h-4.5M383.30 346.12h4.5M594.50 346.12h-4.5M383.30 318.16h4.5M594.50 318.16h-4.5M383.30 421.58h2.3M594.50 421.58h-2.3M383.30 416.66h2.3M594.50 416.66h-2.3M383.30 413.17h2.3M594.50 413.17h-2.3M383.30 410.46h2.3M594.50 410.46h-2.3M383.30 408.24h2.3M594.50 408.24h-2.3M383.30 406.37h2.3M594.50 406.37h-2.3M383.30 404.75h2.3M594.50 404.75h-2.3M383.30 403.32h2.3M594.50 403.32h-2.3M383.30 393.62h2.3M594.50 393.62h-2.3M383.30 388.70h2.3M594.50 388.70h-2.3M383.30 385.21h2.3M594.50 385.21h-2.3M383.30 382.50h2.3M594.50 382.50h-2.3M383.30 380.28h2.3M594.50 380.28h-2.3M383.30 378.41h2.3M594.50 378.41h-2.3M383.30 376.79h2.3M594.50 376.79h-2.3M383.30 375.36h2.3M594.50 375.36h-2.3M383.30 365.66h2.3M594.50 365.66h-2.3M383.30 360.74h2.3M594.50 360.74h-2.3M383.30 357.25h2.3M594.50 357.25h-2.3M383.30 354.54h2.3M594.50 354.54h-2.3M383.30 352.32h2.3M594.50 352.32h-2.3M383.30 350.45h2.3M594.50 350.45h-2.3M383.30 348.83h2.3M594.50 348.83h-2.3M383.30 347.40h2.3M594.50 347.40h-2.3M383.30 337.70h2.3M594.50 337.70h-2.3M383.30 332.78h2.3M594.50 332.78h-2.3M383.30 329.29h2.3M594.50 329.29h-2.3M383.30 326.58h2.3M594.50 326.58h-2.3M383.30 324.36h2.3M594.50 324.36h-2.3M383.30 322.49h2.3M594.50 322.49h-2.3M383.30 320.87h2.3M594.50 320.87h-2.3M383.30 319.44h2.3M594.50 319.44h-2.3M383.30 309.74h2.3M594.50 309.74h-2.3M383.30 304.82h2.3M594.50 304.82h-2.3M383.30 301.33h2.3M594.50 301.33h-2.3M383.30 298.62h2.3M594.50 298.62h-2.3M383.30 296.40h2.3M594.50 296.40h-2.3M383.30 294.53h2.3M594.50 294.53h-2.3M383.30 292.91h2.3M594.50 292.91h-2.3M383.30 291.48h2.3M594.50 291.48h-2.3" stroke="#000" stroke-width="1.3" fill="none"/><rect x="383.30" y="290.20" width="211.20" height="139.80" fill="none" stroke="#000" stroke-width="2.2"/><path d="M450.20 579.50v-4.2M450.20 439.70v4.2M517.10 579.50v-4.2M517.10 439.70v4.2M584.00 579.50v-4.2M584.00 439.70v4.2M396.68 579.50v-2.1M396.68 439.70v2.1M410.06 579.50v-2.1M410.06 439.70v2.1M423.44 579.50v-2.1M423.44 439.70v2.1M436.82 579.50v-2.1M436.82 439.70v2.1M463.58 579.50v-2.1M463.58 439.70v2.1M476.96 579.50v-2.1M476.96 439.70v2.1M490.34 579.50v-2.1M490.34 439.70v2.1M503.72 579.50v-2.1M503.72 439.70v2.1M530.48 579.50v-2.1M530.48 439.70v2.1M543.86 579.50v-2.1M543.86 439.70v2.1M557.24 579.50v-2.1M557.24 439.70v2.1M570.62 579.50v-2.1M570.62 439.70v2.1M383.30 551.54h4.5M594.50 551.54h-4.5M383.30 523.58h4.5M594.50 523.58h-4.5M383.30 495.62h4.5M594.50 495.62h-4.5M383.30 467.66h4.5M594.50 467.66h-4.5M383.30 572.51h2.3M594.50 572.51h-2.3M383.30 565.52h2.3M594.50 565.52h-2.3M383.30 558.53h2.3M594.50 558.53h-2.3M383.30 544.55h2.3M594.50 544.55h-2.3M383.30 537.56h2.3M594.50 537.56h-2.3M383.30 530.57h2.3M594.50 530.57h-2.3M383.30 516.59h2.3M594.50 516.59h-2.3M383.30 509.60h2.3M594.50 509.60h-2.3M383.30 502.61h2.3M594.50 502.61h-2.3M383.30 488.63h2.3M594.50 488.63h-2.3M383.30 481.64h2.3M594.50 481.64h-2.3M383.30 474.65h2.3M594.50 474.65h-2.3M383.30 460.67h2.3M594.50 460.67h-2.3M383.30 453.68h2.3M594.50 453.68h-2.3M383.30 446.69h2.3M594.50 446.69h-2.3" stroke="#000" stroke-width="1.3" fill="none"/><rect x="383.30" y="439.70" width="211.20" height="139.80" fill="none" stroke="#000" stroke-width="2.2"/><path d="M450.20 728.70v-4.2M450.20 589.00v4.2M517.10 728.70v-4.2M517.10 589.00v4.2M584.00 728.70v-4.2M584.00 589.00v4.2M396.68 728.70v-2.1M396.68 589.00v2.1M410.06 728.70v-2.1M410.06 589.00v2.1M423.44 728.70v-2.1M423.44 589.00v2.1M436.82 728.70v-2.1M436.82 589.00v2.1M463.58 728.70v-2.1M463.58 589.00v2.1M476.96 728.70v-2.1M476.96 589.00v2.1M490.34 728.70v-2.1M490.34 589.00v2.1M503.72 728.70v-2.1M503.72 589.00v2.1M530.48 728.70v-2.1M530.48 589.00v2.1M543.86 728.70v-2.1M543.86 589.00v2.1M557.24 728.70v-2.1M557.24 589.00v2.1M570.62 728.70v-2.1M570.62 589.00v2.1M383.30 697.66h4.5M594.50 697.66h-4.5M383.30 658.85h4.5M594.50 658.85h-4.5M383.30 620.04h4.5M594.50 620.04h-4.5M383.30 726.76h2.3M594.50 726.76h-2.3M383.30 724.82h2.3M594.50 724.82h-2.3M383.30 722.88h2.3M594.50 722.88h-2.3M383.30 720.94h2.3M594.50 720.94h-2.3M383.30 719.00h2.3M594.50 719.00h-2.3M383.30 717.06h2.3M594.50 717.06h-2.3M383.30 715.12h2.3M594.50 715.12h-2.3M383.30 713.18h2.3M594.50 713.18h-2.3M383.30 711.24h2.3M594.50 711.24h-2.3M383.30 709.30h2.3M594.50 709.30h-2.3M383.30 707.36h2.3M594.50 707.36h-2.3M383.30 705.42h2.3M594.50 705.42h-2.3M383.30 703.48h2.3M594.50 703.48h-2.3M383.30 701.54h2.3M594.50 701.54h-2.3M383.30 699.60h2.3M594.50 699.60h-2.3M383.30 695.72h2.3M594.50 695.72h-2.3M383.30 693.78h2.3M594.50 693.78h-2.3M383.30 691.83h2.3M594.50 691.83h-2.3M383.30 689.89h2.3M594.50 689.89h-2.3M383.30 687.95h2.3M594.50 687.95h-2.3M383.30 686.01h2.3M594.50 686.01h-2.3M383.30 684.07h2.3M594.50 684.07h-2.3M383.30 682.13h2.3M594.50 682.13h-2.3M383.30 680.19h2.3M594.50 680.19h-2.3M383.30 678.25h2.3M594.50 678.25h-2.3M383.30 676.31h2.3M594.50 676.31h-2.3M383.30 674.37h2.3M594.50 674.37h-2.3M383.30 672.43h2.3M594.50 672.43h-2.3M383.30 670.49h2.3M594.50 670.49h-2.3M383.30 668.55h2.3M594.50 668.55h-2.3M383.30 666.61h2.3M594.50 666.61h-2.3M383.30 664.67h2.3M594.50 664.67h-2.3M383.30 662.73h2.3M594.50 662.73h-2.3M383.30 660.79h2.3M594.50 660.79h-2.3M383.30 656.91h2.3M594.50 656.91h-2.3M383.30 654.97h2.3M594.50 654.97h-2.3M383.30 653.03h2.3M594.50 653.03h-2.3M383.30 651.09h2.3M594.50 651.09h-2.3M383.30 649.15h2.3M594.50 649.15h-2.3M383.30 647.21h2.3M594.50 647.21h-2.3M383.30 645.27h2.3M594.50 645.27h-2.3M383.30 643.33h2.3M594.50 643.33h-2.3M383.30 641.39h2.3M594.50 641.39h-2.3M383.30 639.45h2.3M594.50 639.45h-2.3M383.30 637.51h2.3M594.50 637.51h-2.3M383.30 635.57h2.3M594.50 635.57h-2.3M383.30 633.63h2.3M594.50 633.63h-2.3M383.30 631.69h2.3M594.50 631.69h-2.3M383.30 629.75h2.3M594.50 629.75h-2.3M383.30 627.81h2.3M594.50 627.81h-2.3M383.30 625.87h2.3M594.50 625.87h-2.3M383.30 623.92h2.3M594.50 623.92h-2.3M383.30 621.98h2.3M594.50 621.98h-2.3M383.30 618.10h2.3M594.50 618.10h-2.3M383.30 616.16h2.3M594.50 616.16h-2.3M383.30 614.22h2.3M594.50 614.22h-2.3M383.30 612.28h2.3M594.50 612.28h-2.3M383.30 610.34h2.3M594.50 610.34h-2.3M383.30 608.40h2.3M594.50 608.40h-2.3M383.30 606.46h2.3M594.50 606.46h-2.3M383.30 604.52h2.3M594.50 604.52h-2.3M383.30 602.58h2.3M594.50 602.58h-2.3M383.30 600.64h2.3M594.50 600.64h-2.3M383.30 598.70h2.3M594.50 598.70h-2.3M383.30 596.76h2.3M594.50 596.76h-2.3M383.30 594.82h2.3M594.50 594.82h-2.3M383.30 592.88h2.3M594.50 592.88h-2.3M383.30 590.94h2.3M594.50 590.94h-2.3" stroke="#000" stroke-width="1.3" fill="none"/><rect x="383.30" y="589.00" width="211.20" height="139.70" fill="none" stroke="#000" stroke-width="2.2"/><path d="M97.4 317.1h4.4M99.6 314.9v4.4M99.4 322.9h4.4M101.6 320.7v4.4M101.4 329.1h4.4M103.6 326.9v4.4M103.9 333.2h4.4M106.1 331.0v4.4M105.9 333.8h4.4M108.1 331.6v4.4M107.3 334.4h4.4M109.5 332.2v4.4M108.8 334.9h4.4M111.0 332.7v4.4M110.8 335.7h4.4M113.0 333.5v4.4M112.2 335.9h4.4M114.4 333.7v4.4M113.9 336.7h4.4M116.1 334.5v4.4M115.9 336.6h4.4M118.1 334.4v4.4M117.8 337.6h4.4M120.0 335.4v4.4M119.3 337.8h4.4M121.5 335.6v4.4M120.7 337.9h4.4M122.9 335.7v4.4M122.6 338.4h4.4M124.8 336.2v4.4M124.1 339.0h4.4M126.3 336.8v4.4M125.7 339.6h4.4M127.9 337.4v4.4M127.7 340.4h4.4M129.9 338.2v4.4M129.4 340.7h4.4M131.6 338.5v4.4M131.1 341.3h4.4M133.3 339.1v4.4M132.8 341.6h4.4M135.0 339.4v4.4M134.8 342.5h4.4M137.0 340.3v4.4M136.4 342.9h4.4M138.6 340.7v4.4M137.8 343.1h4.4M140.0 340.9v4.4M139.5 342.1h4.4M141.7 339.9v4.4M141.5 341.3h4.4M143.7 339.1v4.4M143.2 340.5h4.4M145.4 338.3v4.4M145.0 340.9h4.4M147.2 338.7v4.4M146.1 340.8h4.4M148.3 338.6v4.4M148.3 342.1h4.4M150.5 339.9v4.4M150.1 343.3h4.4M152.3 341.1v4.4M151.2 345.7h4.4M153.4 343.5v4.4M153.4 348.8h4.4M155.6 346.6v4.4M154.7 351.2h4.4M156.9 349.0v4.4M156.9 353.6h4.4M159.1 351.4v4.4M158.1 355.7h4.4M160.3 353.5v4.4M159.8 358.2h4.4M162.0 356.0v4.4M161.9 359.8h4.4M164.1 357.6v4.4M163.4 360.5h4.4M165.6 358.3v4.4M164.9 361.2h4.4M167.1 359.0v4.4M166.6 361.6h4.4M168.8 359.4v4.4M168.3 361.9h4.4M170.5 359.7v4.4M170.0 362.3h4.4M172.2 360.1v4.4M172.2 363.0h4.4M174.4 360.8v4.4M173.5 363.5h4.4M175.7 361.3v4.4M175.1 363.6h4.4M177.3 361.4v4.4M177.2 364.2h4.4M179.4 362.0v4.4M178.5 364.8h4.4M180.7 362.6v4.4M180.2 364.8h4.4M182.4 362.6v4.4M182.3 365.3h4.4M184.5 363.1v4.4M183.7 365.5h4.4M185.9 363.3v4.4M185.3 366.3h4.4M187.5 364.1v4.4M187.0 366.6h4.4M189.2 364.4v4.4M188.8 366.9h4.4M191.0 364.7v4.4M190.9 367.2h4.4M193.1 365.0v4.4M192.3 367.8h4.4M194.5 365.6v4.4M193.8 367.7h4.4M196.0 365.5v4.4M195.9 368.4h4.4M198.1 366.2v4.4M197.2 368.4h4.4M199.4 366.2v4.4M199.2 369.2h4.4M201.4 367.0v4.4M200.6 369.6h4.4M202.8 367.4v4.4M202.7 369.8h4.4M204.9 367.6v4.4M204.2 369.8h4.4M206.4 367.6v4.4M205.6 370.5h4.4M207.8 368.3v4.4M207.4 370.5h4.4M209.6 368.3v4.4M209.2 370.7h4.4M211.4 368.5v4.4M211.1 370.6h4.4M213.3 368.4v4.4M212.5 371.0h4.4M214.7 368.8v4.4M214.1 370.9h4.4M216.3 368.7v4.4M216.1 371.4h4.4M218.3 369.2v4.4M217.9 371.4h4.4M220.1 369.2v4.4M219.8 371.6h4.4M222.0 369.4v4.4M220.9 372.0h4.4M223.1 369.8v4.4M222.9 372.2h4.4M225.1 370.0v4.4M224.4 372.7h4.4M226.6 370.5v4.4M226.3 372.8h4.4M228.5 370.6v4.4M227.9 373.6h4.4M230.1 371.4v4.4M230.0 373.8h4.4M232.2 371.6v4.4M231.5 374.0h4.4M233.7 371.8v4.4M232.9 374.0h4.4M235.1 371.8v4.4M234.5 374.8h4.4M236.7 372.6v4.4M236.6 375.1h4.4M238.8 372.9v4.4M237.9 375.3h4.4M240.1 373.1v4.4M239.9 375.6h4.4M242.1 373.4v4.4M241.5 376.1h4.4M243.7 373.9v4.4M243.0 376.2h4.4M245.2 374.0v4.4M245.1 376.7h4.4M247.3 374.5v4.4M246.8 377.0h4.4M249.0 374.8v4.4M248.6 377.5h4.4M250.8 375.3v4.4M250.0 377.7h4.4M252.2 375.5v4.4M253.0 375.1h4.4M255.2 372.9v4.4M254.8 378.3h4.4M257.0 376.1v4.4M256.7 379.5h4.4M258.9 377.3v4.4M259.4 385.6h4.4M261.6 383.4v4.4M262.2 384.3h4.4M264.4 382.1v4.4M264.3 386.5h4.4M266.5 384.3v4.4M266.8 388.3h4.4M269.0 386.1v4.4M270.5 393.5h4.4M272.7 391.3v4.4M272.3 393.2h4.4M274.5 391.0v4.4M274.1 393.0h4.4M276.3 390.8v4.4M276.9 388.7h4.4M279.1 386.5v4.4M279.7 393.5h4.4M281.9 391.3v4.4M281.5 394.0h4.4M283.7 391.8v4.4M283.3 394.2h4.4M285.5 392.0v4.4M285.2 395.0h4.4M287.4 392.8v4.4M287.0 395.7h4.4M289.2 393.5v4.4M288.8 397.5h4.4M291.0 395.3v4.4M289.8 399.4h4.4M292.0 397.2v4.4M291.6 406.4h4.4M293.8 404.2v4.4M293.5 410.4h4.4M295.7 408.2v4.4M297.1 406.4h4.4M299.3 404.2v4.4M302.7 380.0h4.4M304.9 377.8v4.4" stroke="#5e5e5e" stroke-width="1.5" fill="none"/><path d="M383.4 314.6h4.4M385.6 312.4v4.4M384.1 317.6h4.4M386.3 315.4v4.4M386.5 321.7h4.4M388.7 319.5v4.4M388.0 323.8h4.4M390.2 321.6v4.4M389.9 325.5h4.4M392.1 323.3v4.4M391.5 326.8h4.4M393.7 324.6v4.4M393.1 328.4h4.4M395.3 326.2v4.4M394.5 329.8h4.4M396.7 327.6v4.4M396.8 331.2h4.4M399.0 329.0v4.4M398.3 332.2h4.4M400.5 330.0v4.4M400.0 333.6h4.4M402.2 331.4v4.4M401.6 335.0h4.4M403.8 332.8v4.4M403.1 335.9h4.4M405.3 333.7v4.4M404.7 336.6h4.4M406.9 334.4v4.4M406.7 337.2h4.4M408.9 335.0v4.4M408.5 338.2h4.4M410.7 336.0v4.4M410.2 339.4h4.4M412.4 337.2v4.4M411.7 339.7h4.4M413.9 337.5v4.4M413.4 341.0h4.4M415.6 338.8v4.4M415.0 341.6h4.4M417.2 339.4v4.4M417.1 342.9h4.4M419.3 340.7v4.4M418.6 344.0h4.4M420.8 341.8v4.4M420.2 344.8h4.4M422.4 342.6v4.4M421.8 345.7h4.4M424.0 343.5v4.4M423.9 346.9h4.4M426.1 344.7v4.4M425.6 347.6h4.4M427.8 345.4v4.4M427.1 348.6h4.4M429.3 346.4v4.4M428.6 349.7h4.4M430.8 347.5v4.4M430.7 350.9h4.4M432.9 348.7v4.4M432.3 352.0h4.4M434.5 349.8v4.4M433.8 352.5h4.4M436.0 350.3v4.4M435.6 353.6h4.4M437.8 351.4v4.4M437.1 354.7h4.4M439.3 352.5v4.4M439.1 355.7h4.4M441.3 353.5v4.4M440.6 356.9h4.4M442.8 354.7v4.4M442.7 357.6h4.4M444.9 355.4v4.4M443.8 358.3h4.4M446.0 356.1v4.4M446.0 359.3h4.4M448.2 357.1v4.4M447.6 360.5h4.4M449.8 358.3v4.4M449.1 361.4h4.4M451.3 359.2v4.4M450.6 361.7h4.4M452.8 359.5v4.4M452.6 362.3h4.4M454.8 360.1v4.4M454.5 363.1h4.4M456.7 360.9v4.4M455.8 363.7h4.4M458.0 361.5v4.4M457.8 364.6h4.4M460.0 362.4v4.4M459.5 365.4h4.4M461.7 363.2v4.4M461.3 366.2h4.4M463.5 364.0v4.4M462.9 366.3h4.4M465.1 364.1v4.4M464.5 367.0h4.4M466.7 364.8v4.4M465.9 367.8h4.4M468.1 365.6v4.4M468.0 368.2h4.4M470.2 366.0v4.4M469.5 368.9h4.4M471.7 366.7v4.4M471.4 369.6h4.4M473.6 367.4v4.4M473.1 370.3h4.4M475.3 368.1v4.4M474.6 370.8h4.4M476.8 368.6v4.4M476.6 371.0h4.4M478.8 368.8v4.4M478.4 371.9h4.4M480.6 369.7v4.4M479.6 372.4h4.4M481.8 370.2v4.4M481.6 373.3h4.4M483.8 371.1v4.4M483.1 373.8h4.4M485.3 371.6v4.4M485.1 374.5h4.4M487.3 372.3v4.4M486.9 374.7h4.4M489.1 372.5v4.4M488.4 375.1h4.4M490.6 372.9v4.4M490.1 375.2h4.4M492.3 373.0v4.4M491.8 374.0h4.4M494.0 371.8v4.4M493.2 373.7h4.4M495.4 371.5v4.4M495.4 375.0h4.4M497.6 372.8v4.4M496.8 376.6h4.4M499.0 374.4v4.4M498.4 378.1h4.4M500.6 375.9v4.4M500.4 378.0h4.4M502.6 375.8v4.4M501.6 378.3h4.4M503.8 376.1v4.4M503.6 378.7h4.4M505.8 376.5v4.4M505.3 378.4h4.4M507.5 376.2v4.4M507.2 378.5h4.4M509.4 376.3v4.4M508.9 378.6h4.4M511.1 376.4v4.4M510.3 379.0h4.4M512.5 376.8v4.4M511.9 378.6h4.4M514.1 376.4v4.4M513.8 379.0h4.4M516.0 376.8v4.4M515.7 379.3h4.4M517.9 377.1v4.4M517.5 379.5h4.4M519.7 377.3v4.4M519.2 379.6h4.4M521.4 377.4v4.4M520.4 380.1h4.4M522.6 377.9v4.4M522.2 380.4h4.4M524.4 378.2v4.4M524.1 380.4h4.4M526.3 378.2v4.4M525.9 380.6h4.4M528.1 378.4v4.4M527.3 380.7h4.4M529.5 378.5v4.4M529.3 381.2h4.4M531.5 379.0v4.4M530.6 381.3h4.4M532.8 379.1v4.4M532.8 381.1h4.4M535.0 378.9v4.4M534.2 381.0h4.4M536.4 378.8v4.4M535.9 381.3h4.4M538.1 379.1v4.4M537.7 381.6h4.4M539.9 379.4v4.4M539.6 383.7h4.4M541.8 381.5v4.4M540.9 384.1h4.4M543.1 381.9v4.4M542.7 383.3h4.4M544.9 381.1v4.4M544.5 382.8h4.4M546.7 380.6v4.4M546.1 382.8h4.4M548.3 380.6v4.4M548.1 383.1h4.4M550.3 380.9v4.4M549.4 382.8h4.4M551.6 380.6v4.4M551.0 382.8h4.4M553.2 380.6v4.4M553.1 383.0h4.4M555.3 380.8v4.4M554.6 382.5h4.4M556.8 380.3v4.4M556.1 382.4h4.4M558.3 380.2v4.4M558.3 381.9h4.4M560.5 379.7v4.4M559.9 382.4h4.4M562.1 380.2v4.4M561.2 384.7h4.4M563.4 382.5v4.4M563.2 385.8h4.4M565.4 383.6v4.4M564.7 387.0h4.4M566.9 384.8v4.4M566.3 387.8h4.4M568.5 385.6v4.4M568.0 388.4h4.4M570.2 386.2v4.4M569.8 388.9h4.4M572.0 386.7v4.4M532.5 386.5h4.4M534.7 384.3v4.4M571.8 377.8h4.4M574.0 375.6v4.4M574.1 387.2h4.4M576.3 385.0v4.4M576.3 393.5h4.4M578.5 391.3v4.4M578.5 387.0h4.4M580.7 384.8v4.4M580.4 386.9h4.4M582.6 384.7v4.4M582.8 396.4h4.4M585.0 394.2v4.4M557.6 421.8h4.4M559.8 419.6v4.4" stroke="#5e5e5e" stroke-width="1.5" fill="none"/><path d="M96.6 541.9h4.4M98.8 539.7v4.4M99.3 531.8h4.4M101.5 529.6v4.4M100.8 548.7h4.4M103.0 546.5v4.4M102.6 544.7h4.4M104.8 542.5v4.4M104.5 570.1h4.4M106.7 567.9v4.4M106.3 548.7h4.4M108.5 546.5v4.4M108.1 533.7h4.4M110.3 531.5v4.4M110.0 537.7h4.4M112.2 535.5v4.4M111.6 553.5h4.4M113.8 551.3v4.4M113.7 561.6h4.4M115.9 559.4v4.4M115.5 553.0h4.4M117.7 550.8v4.4M117.3 542.5h4.4M119.5 540.3v4.4M119.0 554.3h4.4M121.2 552.1v4.4M121.0 549.3h4.4M123.2 547.1v4.4M122.9 541.0h4.4M125.1 538.8v4.4M124.7 536.4h4.4M126.9 534.2v4.4M126.5 532.2h4.4M128.7 530.0v4.4M128.4 528.5h4.4M130.6 526.3v4.4M130.2 530.0h4.4M132.4 527.8v4.4M132.1 531.5h4.4M134.3 529.3v4.4M134.3 530.0h4.4M136.5 527.8v4.4M136.5 529.1h4.4M138.7 526.9v4.4M138.3 528.1h4.4M140.5 525.9v4.4M139.4 524.5h4.4M141.6 522.3v4.4M140.9 515.6h4.4M143.1 513.4v4.4M142.7 507.9h4.4M144.9 505.7v4.4M144.4 502.8h4.4M146.6 500.6v4.4M146.2 500.2h4.4M148.4 498.0v4.4M148.1 506.1h4.4M150.3 503.9v4.4M149.9 510.1h4.4M152.1 507.9v4.4M152.3 509.7h4.4M154.5 507.5v4.4M153.0 549.3h4.4M155.2 547.1v4.4M155.4 544.3h4.4M157.6 542.1v4.4M157.3 548.4h4.4M159.5 546.2v4.4M159.1 552.1h4.4M161.3 549.9v4.4M160.3 553.5h4.4M162.5 551.3v4.4M161.5 554.8h4.4M163.7 552.6v4.4M238.6 517.1h4.4M240.8 514.9v4.4M241.0 523.0h4.4M243.2 520.8v4.4M244.2 522.3h4.4M246.4 520.1v4.4M246.0 527.8h4.4M248.2 525.6v4.4M249.3 524.5h4.4M251.5 522.3v4.4M251.1 526.3h4.4M253.3 524.1v4.4M253.9 521.2h4.4M256.1 519.0v4.4M256.3 521.2h4.4M258.5 519.0v4.4M257.0 531.8h4.4M259.2 529.6v4.4M260.3 538.3h4.4M262.5 536.1v4.4M262.6 537.7h4.4M264.8 535.5v4.4M266.2 540.6h4.4M268.4 538.4v4.4M268.1 539.2h4.4M270.3 537.0v4.4M258.5 554.3h4.4M260.7 552.1v4.4M264.4 551.7h4.4M266.6 549.5v4.4M269.5 550.2h4.4M271.7 548.0v4.4M277.3 535.9h4.4M279.5 533.7v4.4M297.1 535.5h4.4M299.3 533.3v4.4M304.9 531.8h4.4M307.1 529.6v4.4M163.7 550.2h4.4M165.9 548.0v4.4M165.3 549.3h4.4M167.5 547.1v4.4M167.1 548.3h4.4M169.3 546.1v4.4M168.6 547.5h4.4M170.8 545.3v4.4M170.6 546.3h4.4M172.8 544.1v4.4M172.4 545.2h4.4M174.6 543.0v4.4M174.1 543.9h4.4M176.3 541.7v4.4M175.7 543.1h4.4M177.9 540.9v4.4M177.5 541.6h4.4M179.7 539.4v4.4M178.9 541.0h4.4M181.1 538.8v4.4M180.5 540.2h4.4M182.7 538.0v4.4M182.6 538.8h4.4M184.8 536.6v4.4M183.9 538.3h4.4M186.1 536.1v4.4M185.7 537.1h4.4M187.9 534.9v4.4M187.7 536.5h4.4M189.9 534.3v4.4M189.4 535.4h4.4M191.6 533.2v4.4M190.8 535.2h4.4M193.0 533.0v4.4M192.3 534.3h4.4M194.5 532.1v4.4M194.4 534.2h4.4M196.6 532.0v4.4M196.3 533.1h4.4M198.5 530.9v4.4M197.7 532.8h4.4M199.9 530.6v4.4M199.4 532.1h4.4M201.6 529.9v4.4M200.9 530.8h4.4M203.1 528.6v4.4M202.6 529.6h4.4M204.8 527.4v4.4M204.5 528.6h4.4M206.7 526.4v4.4M206.2 527.4h4.4M208.4 525.2v4.4M207.7 526.6h4.4M209.9 524.4v4.4M209.8 526.2h4.4M212.0 524.0v4.4M211.6 524.8h4.4M213.8 522.6v4.4M212.7 524.6h4.4M214.9 522.4v4.4M214.7 523.8h4.4M216.9 521.6v4.4M216.3 523.0h4.4M218.5 520.8v4.4M218.1 522.3h4.4M220.3 520.1v4.4M219.9 521.4h4.4M222.1 519.2v4.4M221.6 521.9h4.4M223.8 519.7v4.4M223.0 521.7h4.4M225.2 519.5v4.4M225.0 521.6h4.4M227.2 519.4v4.4M226.4 520.9h4.4M228.6 518.7v4.4M228.3 520.1h4.4M230.5 517.9v4.4M230.2 519.8h4.4M232.4 517.6v4.4M231.8 519.2h4.4M234.0 517.0v4.4M233.5 519.7h4.4M235.7 517.5v4.4M235.2 520.6h4.4M237.4 518.4v4.4M271.7 548.2h4.4M273.9 546.0v4.4M273.0 546.7h4.4M275.2 544.5v4.4M274.9 545.6h4.4M277.1 543.4v4.4M276.7 544.9h4.4M278.9 542.7v4.4M278.4 544.7h4.4M280.6 542.5v4.4M280.0 543.8h4.4M282.2 541.6v4.4M281.8 542.7h4.4M284.0 540.5v4.4M283.4 541.6h4.4M285.6 539.4v4.4M284.9 541.2h4.4M287.1 539.0v4.4M286.4 540.4h4.4M288.6 538.2v4.4M288.5 539.8h4.4M290.7 537.6v4.4M289.9 540.5h4.4M292.1 538.3v4.4M291.9 541.3h4.4M294.1 539.1v4.4M293.6 542.5h4.4M295.8 540.3v4.4M295.2 541.7h4.4M297.4 539.5v4.4M297.2 541.7h4.4M299.4 539.5v4.4M298.7 541.9h4.4M300.9 539.7v4.4M300.6 541.7h4.4M302.8 539.5v4.4M302.1 542.6h4.4M304.3 540.4v4.4" stroke="#5e5e5e" stroke-width="1.5" fill="none"/><path d="M382.6 570.8h4.4M384.8 568.6v4.4M385.3 570.8h4.4M387.5 568.6v4.4M388.1 558.5h4.4M390.3 556.3v4.4M494.5 546.2h4.4M496.7 544.0v4.4M496.3 551.7h4.4M498.5 549.5v4.4M532.2 571.9h4.4M534.4 569.7v4.4M539.4 546.5h4.4M541.6 544.3v4.4M541.7 541.0h4.4M543.9 538.8v4.4M557.8 553.0h4.4M560.0 550.8v4.4M572.5 519.9h4.4M574.7 517.7v4.4M586.8 551.7h4.4M589.0 549.5v4.4M573.9 535.1h4.4M576.1 532.9v4.4M575.8 528.5h4.4M578.0 526.3v4.4M578.0 525.4h4.4M580.2 523.2v4.4M580.4 532.7h4.4M582.6 530.5v4.4M390.7 553.4h4.4M392.9 551.2v4.4M392.2 552.6h4.4M394.4 550.4v4.4M394.1 551.3h4.4M396.3 549.1v4.4M395.8 549.4h4.4M398.0 547.2v4.4M397.6 547.8h4.4M399.8 545.6v4.4M399.6 546.9h4.4M401.8 544.7v4.4M401.3 546.3h4.4M403.5 544.1v4.4M402.9 545.4h4.4M405.1 543.2v4.4M404.5 542.6h4.4M406.7 540.4v4.4M405.8 539.5h4.4M408.0 537.3v4.4M407.6 536.2h4.4M409.8 534.0v4.4M409.3 533.5h4.4M411.5 531.3v4.4M411.3 531.8h4.4M413.5 529.6v4.4M413.2 530.7h4.4M415.4 528.5v4.4M414.6 529.7h4.4M416.8 527.5v4.4M416.2 528.8h4.4M418.4 526.6v4.4M418.1 528.3h4.4M420.3 526.1v4.4M419.6 527.7h4.4M421.8 525.5v4.4M421.3 526.7h4.4M423.5 524.5v4.4M422.9 526.1h4.4M425.1 523.9v4.4M424.6 527.0h4.4M426.8 524.8v4.4M426.4 527.7h4.4M428.6 525.5v4.4M428.3 527.9h4.4M430.5 525.7v4.4M430.2 529.4h4.4M432.4 527.2v4.4M431.3 530.3h4.4M433.5 528.1v4.4M433.3 531.0h4.4M435.5 528.8v4.4M435.3 532.2h4.4M437.5 530.0v4.4M436.7 533.9h4.4M438.9 531.7v4.4M438.5 536.3h4.4M440.7 534.1v4.4M440.4 538.9h4.4M442.6 536.7v4.4M441.9 539.8h4.4M444.1 537.6v4.4M443.6 541.3h4.4M445.8 539.1v4.4M445.0 542.2h4.4M447.2 540.0v4.4M446.9 543.2h4.4M449.1 541.0v4.4M448.6 544.6h4.4M450.8 542.4v4.4M450.3 545.2h4.4M452.5 543.0v4.4M452.0 546.1h4.4M454.2 543.9v4.4M453.9 546.9h4.4M456.1 544.7v4.4M455.7 547.8h4.4M457.9 545.6v4.4M457.2 547.5h4.4M459.4 545.3v4.4M458.6 548.1h4.4M460.8 545.9v4.4M460.7 548.1h4.4M462.9 545.9v4.4M462.1 547.0h4.4M464.3 544.8v4.4M464.0 546.2h4.4M466.2 544.0v4.4M465.7 546.6h4.4M467.9 544.4v4.4M467.5 548.2h4.4M469.7 546.0v4.4M468.8 549.6h4.4M471.0 547.4v4.4M470.9 549.5h4.4M473.1 547.3v4.4M472.1 549.5h4.4M474.3 547.3v4.4M474.0 551.0h4.4M476.2 548.8v4.4M475.9 552.1h4.4M478.1 549.9v4.4M477.5 553.3h4.4M479.7 551.1v4.4M479.0 554.9h4.4M481.2 552.7v4.4M480.9 555.7h4.4M483.1 553.5v4.4M482.5 556.1h4.4M484.7 553.9v4.4M484.1 556.5h4.4M486.3 554.3v4.4M486.1 557.1h4.4M488.3 554.9v4.4M487.4 557.0h4.4M489.6 554.8v4.4M489.6 557.9h4.4M491.8 555.7v4.4M491.3 558.3h4.4M493.5 556.1v4.4M498.5 554.7h4.4M500.7 552.5v4.4M500.4 554.7h4.4M502.6 552.5v4.4M502.0 555.1h4.4M504.2 552.9v4.4M503.5 553.4h4.4M505.7 551.2v4.4M505.4 552.0h4.4M507.6 549.8v4.4M507.0 550.2h4.4M509.2 548.0v4.4M508.5 549.1h4.4M510.7 546.9v4.4M510.1 547.3h4.4M512.3 545.1v4.4M512.1 546.5h4.4M514.3 544.3v4.4M513.9 545.4h4.4M516.1 543.2v4.4M515.7 544.3h4.4M517.9 542.1v4.4M517.0 544.2h4.4M519.2 542.0v4.4M518.6 543.5h4.4M520.8 541.3v4.4M520.7 543.3h4.4M522.9 541.1v4.4M522.2 542.3h4.4M524.4 540.1v4.4M523.9 542.0h4.4M526.1 539.8v4.4M525.6 540.9h4.4M527.8 538.7v4.4M527.5 540.6h4.4M529.7 538.4v4.4M529.4 540.2h4.4M531.6 538.0v4.4M531.0 539.3h4.4M533.2 537.1v4.4M532.7 538.7h4.4M534.9 536.5v4.4M534.1 537.5h4.4M536.3 535.3v4.4M536.2 536.6h4.4M538.4 534.4v4.4M544.3 536.3h4.4M546.5 534.1v4.4M546.1 535.2h4.4M548.3 533.0v4.4M547.8 534.0h4.4M550.0 531.8v4.4M549.4 533.1h4.4M551.6 530.9v4.4M551.5 532.2h4.4M553.7 530.0v4.4M553.2 531.3h4.4M555.4 529.1v4.4M554.5 530.6h4.4M556.7 528.4v4.4M556.6 529.5h4.4M558.8 527.3v4.4M557.8 527.9h4.4M560.0 525.7v4.4M559.8 527.9h4.4M562.0 525.7v4.4M561.8 531.3h4.4M564.0 529.1v4.4M563.4 531.6h4.4M565.6 529.4v4.4M564.9 531.6h4.4M567.1 529.4v4.4M566.4 530.6h4.4M568.6 528.4v4.4M568.4 530.7h4.4M570.6 528.5v4.4M569.8 530.2h4.4M572.0 528.0v4.4M582.1 531.6h4.4M584.3 529.4v4.4M584.1 530.8h4.4M586.3 528.6v4.4M585.5 530.7h4.4M587.7 528.5v4.4M587.4 530.3h4.4M589.6 528.1v4.4M589.0 529.6h4.4M591.2 527.4v4.4M591.1 529.5h4.4M593.3 527.3v4.4" stroke="#5e5e5e" stroke-width="1.5" fill="none"/><path d="M96.6 672.6h4.4M98.8 670.4v4.4M99.3 671.7h4.4M101.5 669.5v4.4M102.1 668.9h4.4M104.3 666.7v4.4M104.5 663.8h4.4M106.7 661.6v4.4M106.7 657.9h4.4M108.9 655.7v4.4M108.3 654.5h4.4M110.5 652.3v4.4M109.4 653.3h4.4M111.6 651.1v4.4M111.3 651.5h4.4M113.5 649.3v4.4M113.1 656.4h4.4M115.3 654.2v4.4M115.5 662.5h4.4M117.7 660.3v4.4M117.3 668.9h4.4M119.5 666.7v4.4M119.6 674.8h4.4M121.8 672.6v4.4M122.3 676.7h4.4M124.5 674.5v4.4M244.2 687.3h4.4M246.4 685.1v4.4M297.1 687.7h4.4M299.3 685.5v4.4M124.0 676.2h4.4M126.2 674.0v4.4M125.8 675.6h4.4M128.0 673.4v4.4M127.6 674.2h4.4M129.8 672.0v4.4M129.3 673.0h4.4M131.5 670.8v4.4M131.0 671.7h4.4M133.2 669.5v4.4M132.7 670.0h4.4M134.9 667.8v4.4M134.5 668.2h4.4M136.7 666.0v4.4M135.9 667.3h4.4M138.1 665.1v4.4M137.8 666.3h4.4M140.0 664.1v4.4M139.3 666.5h4.4M141.5 664.3v4.4M141.1 667.6h4.4M143.3 665.4v4.4M142.6 667.4h4.4M144.8 665.2v4.4M144.2 667.8h4.4M146.4 665.6v4.4M146.0 668.3h4.4M148.2 666.1v4.4M147.5 667.7h4.4M149.7 665.5v4.4M149.3 667.6h4.4M151.5 665.4v4.4M151.4 667.5h4.4M153.6 665.3v4.4M153.3 675.9h4.4M155.5 673.7v4.4M155.4 678.0h4.4M157.6 675.8v4.4M156.7 679.4h4.4M158.9 677.2v4.4M158.5 681.4h4.4M160.7 679.2v4.4M160.2 683.6h4.4M162.4 681.4v4.4M162.2 684.3h4.4M164.4 682.1v4.4M163.6 685.0h4.4M165.8 682.8v4.4M165.3 685.2h4.4M167.5 683.0v4.4M167.1 684.3h4.4M169.3 682.1v4.4M169.1 683.4h4.4M171.3 681.2v4.4M170.5 683.6h4.4M172.7 681.4v4.4M172.5 683.4h4.4M174.7 681.2v4.4M174.0 683.9h4.4M176.2 681.7v4.4M175.7 683.7h4.4M177.9 681.5v4.4M177.1 684.4h4.4M179.3 682.2v4.4M179.3 684.3h4.4M181.5 682.1v4.4M180.8 684.7h4.4M183.0 682.5v4.4M182.4 685.3h4.4M184.6 683.1v4.4M184.3 685.1h4.4M186.5 682.9v4.4M185.6 685.5h4.4M187.8 683.3v4.4M187.5 685.8h4.4M189.7 683.6v4.4M189.4 685.8h4.4M191.6 683.6v4.4M190.8 685.7h4.4M193.0 683.5v4.4M192.6 685.6h4.4M194.8 683.4v4.4M194.6 685.5h4.4M196.8 683.3v4.4M196.2 685.5h4.4M198.4 683.3v4.4M197.7 685.0h4.4M199.9 682.8v4.4M199.3 685.1h4.4M201.5 682.9v4.4M200.9 685.0h4.4M203.1 682.8v4.4M203.1 684.9h4.4M205.3 682.7v4.4M204.3 684.5h4.4M206.5 682.3v4.4M206.4 684.4h4.4M208.6 682.2v4.4M208.0 684.5h4.4M210.2 682.3v4.4M210.0 684.5h4.4M212.2 682.3v4.4M211.6 684.2h4.4M213.8 682.0v4.4M213.3 684.2h4.4M215.5 682.0v4.4M215.1 683.8h4.4M217.3 681.6v4.4M216.7 683.9h4.4M218.9 681.7v4.4M218.2 684.3h4.4M220.4 682.1v4.4M219.7 684.6h4.4M221.9 682.4v4.4M221.5 684.5h4.4M223.7 682.3v4.4M223.0 684.7h4.4M225.2 682.5v4.4M225.0 685.2h4.4M227.2 683.0v4.4M226.6 685.2h4.4M228.8 683.0v4.4M228.2 685.0h4.4M230.4 682.8v4.4M230.1 685.4h4.4M232.3 683.2v4.4M232.0 685.1h4.4M234.2 682.9v4.4M233.2 684.6h4.4M235.4 682.4v4.4M235.3 684.1h4.4M237.5 681.9v4.4M236.9 683.8h4.4M239.1 681.6v4.4M238.3 683.6h4.4M240.5 681.4v4.4M240.5 682.6h4.4M242.7 680.4v4.4M242.1 682.1h4.4M244.3 679.9v4.4M243.6 682.7h4.4M245.8 680.5v4.4M245.3 683.0h4.4M247.5 680.8v4.4M247.0 683.7h4.4M249.2 681.5v4.4M248.7 683.4h4.4M250.9 681.2v4.4M250.6 683.4h4.4M252.8 681.2v4.4M252.5 683.4h4.4M254.7 681.2v4.4M254.0 683.4h4.4M256.2 681.2v4.4M255.8 683.5h4.4M258.0 681.3v4.4M257.1 683.8h4.4M259.3 681.6v4.4M259.1 684.5h4.4M261.3 682.3v4.4M260.5 684.7h4.4M262.7 682.5v4.4M262.6 685.3h4.4M264.8 683.1v4.4M263.9 685.7h4.4M266.1 683.5v4.4M265.6 686.1h4.4M267.8 683.9v4.4M267.4 686.1h4.4M269.6 683.9v4.4M269.5 686.4h4.4M271.7 684.2v4.4M270.9 686.5h4.4M273.1 684.3v4.4M272.8 687.4h4.4M275.0 685.2v4.4M274.2 688.3h4.4M276.4 686.1v4.4M275.9 689.2h4.4M278.1 687.0v4.4M277.6 690.0h4.4M279.8 687.8v4.4M279.7 690.5h4.4M281.9 688.3v4.4M281.2 690.8h4.4M283.4 688.6v4.4M282.5 690.9h4.4M284.7 688.7v4.4M284.4 691.1h4.4M286.6 688.9v4.4M286.0 690.9h4.4M288.2 688.7v4.4M287.9 691.2h4.4M290.1 689.0v4.4M289.8 691.1h4.4M292.0 688.9v4.4M291.1 691.4h4.4M293.3 689.2v4.4M293.2 691.6h4.4M295.4 689.4v4.4M294.6 691.8h4.4M296.8 689.6v4.4M296.2 692.2h4.4M298.4 690.0v4.4M298.4 692.4h4.4M300.6 690.2v4.4M299.9 692.8h4.4M302.1 690.6v4.4M301.3 693.1h4.4M303.5 690.9v4.4M303.3 692.9h4.4M305.5 690.7v4.4" stroke="#5e5e5e" stroke-width="1.5" fill="none"/><path d="M383.1 623.9h4.4M385.3 621.7v4.4M385.7 631.8h4.4M387.9 629.6v4.4M386.8 639.1h4.4M389.0 636.9v4.4M388.1 646.9h4.4M390.3 644.7v4.4M389.6 643.0h4.4M391.8 640.8v4.4M391.6 642.0h4.4M393.8 639.8v4.4M393.2 641.2h4.4M395.4 639.0v4.4M394.9 640.7h4.4M397.1 638.5v4.4M396.5 640.8h4.4M398.7 638.6v4.4M398.2 640.6h4.4M400.4 638.4v4.4M400.1 640.0h4.4M402.3 637.8v4.4M401.8 639.4h4.4M404.0 637.2v4.4M403.7 639.4h4.4M405.9 637.2v4.4M405.4 638.8h4.4M407.6 636.6v4.4M406.7 638.6h4.4M408.9 636.4v4.4M408.5 638.5h4.4M410.7 636.3v4.4M410.1 638.1h4.4M412.3 635.9v4.4M412.2 637.6h4.4M414.4 635.4v4.4M413.7 637.4h4.4M415.9 635.2v4.4M415.1 637.3h4.4M417.3 635.1v4.4M417.4 637.6h4.4M419.6 635.4v4.4M418.9 637.0h4.4M421.1 634.8v4.4M420.6 637.1h4.4M422.8 634.9v4.4M422.1 636.9h4.4M424.3 634.7v4.4M424.1 636.4h4.4M426.3 634.2v4.4M425.4 636.7h4.4M427.6 634.5v4.4M427.1 636.6h4.4M429.3 634.4v4.4M429.0 636.5h4.4M431.2 634.3v4.4M430.7 636.6h4.4M432.9 634.4v4.4M432.4 636.7h4.4M434.6 634.5v4.4M434.2 636.8h4.4M436.4 634.6v4.4M435.9 637.0h4.4M438.1 634.8v4.4M437.8 637.5h4.4M440.0 635.3v4.4M439.2 637.6h4.4M441.4 635.4v4.4M441.0 638.0h4.4M443.2 635.8v4.4M442.8 638.4h4.4M445.0 636.2v4.4M444.3 638.8h4.4M446.5 636.6v4.4M446.2 639.0h4.4M448.4 636.8v4.4M447.6 639.0h4.4M449.8 636.8v4.4M449.4 639.6h4.4M451.6 637.4v4.4M451.1 639.7h4.4M453.3 637.5v4.4M452.8 640.2h4.4M455.0 638.0v4.4M454.4 640.0h4.4M456.6 637.8v4.4M456.3 640.7h4.4M458.5 638.5v4.4M458.0 640.7h4.4M460.2 638.5v4.4M459.8 640.6h4.4M462.0 638.4v4.4M461.4 640.6h4.4M463.6 638.4v4.4M462.8 641.0h4.4M465.0 638.8v4.4M464.7 641.2h4.4M466.9 639.0v4.4M466.1 641.6h4.4M468.3 639.4v4.4M468.1 641.5h4.4M470.3 639.3v4.4M469.7 641.9h4.4M471.9 639.7v4.4M471.3 641.9h4.4M473.5 639.7v4.4M473.4 642.7h4.4M475.6 640.5v4.4M475.0 642.9h4.4M477.2 640.7v4.4M476.6 643.2h4.4M478.8 641.0v4.4M478.1 643.4h4.4M480.3 641.2v4.4M480.0 643.8h4.4M482.2 641.6v4.4M481.5 644.1h4.4M483.7 641.9v4.4M483.2 644.3h4.4M485.4 642.1v4.4M485.4 644.3h4.4M487.6 642.1v4.4M486.6 644.9h4.4M488.8 642.7v4.4M488.4 645.3h4.4M490.6 643.1v4.4M490.4 648.6h4.4M492.6 646.4v4.4M491.8 651.1h4.4M494.0 648.9v4.4M493.7 649.7h4.4M495.9 647.5v4.4M495.0 648.5h4.4M497.2 646.3v4.4M496.9 646.8h4.4M499.1 644.6v4.4M499.0 645.6h4.4M501.2 643.4v4.4M500.4 645.2h4.4M502.6 643.0v4.4M502.0 646.8h4.4M504.2 644.6v4.4M504.0 647.5h4.4M506.2 645.3v4.4M505.7 648.5h4.4M507.9 646.3v4.4M507.2 649.4h4.4M509.4 647.2v4.4M509.1 650.8h4.4M511.3 648.6v4.4M510.4 651.0h4.4M512.6 648.8v4.4M512.1 651.1h4.4M514.3 648.9v4.4M513.7 650.7h4.4M515.9 648.5v4.4M515.8 650.8h4.4M518.0 648.6v4.4M517.6 651.3h4.4M519.8 649.1v4.4M519.2 651.3h4.4M521.4 649.1v4.4M520.9 652.2h4.4M523.1 650.0v4.4M522.5 652.1h4.4M524.7 649.9v4.4M524.0 652.7h4.4M526.2 650.5v4.4M526.0 653.1h4.4M528.2 650.9v4.4M527.4 653.0h4.4M529.6 650.8v4.4M529.4 653.1h4.4M531.6 650.9v4.4M530.9 652.8h4.4M533.1 650.6v4.4M532.9 652.6h4.4M535.1 650.4v4.4M534.2 652.3h4.4M536.4 650.1v4.4M536.4 652.7h4.4M538.6 650.5v4.4M537.7 652.8h4.4M539.9 650.6v4.4M539.3 652.9h4.4M541.5 650.7v4.4M541.2 652.0h4.4M543.4 649.8v4.4M542.9 651.1h4.4M545.1 648.9v4.4M544.7 650.7h4.4M546.9 648.5v4.4M546.2 650.4h4.4M548.4 648.2v4.4M547.8 649.7h4.4M550.0 647.5v4.4M549.9 649.3h4.4M552.1 647.1v4.4M551.3 649.1h4.4M553.5 646.9v4.4M552.9 649.0h4.4M555.1 646.8v4.4M555.1 648.1h4.4M557.3 645.9v4.4M556.5 648.1h4.4M558.7 645.9v4.4M558.1 648.3h4.4M560.3 646.1v4.4M559.9 648.2h4.4M562.1 646.0v4.4M561.6 648.9h4.4M563.8 646.7v4.4M563.2 649.3h4.4M565.4 647.1v4.4M565.2 649.6h4.4M567.4 647.4v4.4M566.7 650.0h4.4M568.9 647.8v4.4M568.5 649.9h4.4M570.7 647.7v4.4M570.4 649.8h4.4M572.6 647.6v4.4M572.0 650.0h4.4M574.2 647.8v4.4M573.6 650.1h4.4M575.8 647.9v4.4M575.2 650.5h4.4M577.4 648.3v4.4M577.1 650.6h4.4M579.3 648.4v4.4M578.4 650.5h4.4M580.6 648.3v4.4M580.1 650.2h4.4M582.3 648.0v4.4M582.0 649.2h4.4M584.2 647.0v4.4M583.8 649.0h4.4M586.0 646.8v4.4M585.4 649.3h4.4M587.6 647.1v4.4M586.9 649.5h4.4M589.1 647.3v4.4M588.5 650.2h4.4M590.7 648.0v4.4M590.5 650.2h4.4M592.7 648.0v4.4M592.1 650.0h4.4M594.3 647.8v4.4" stroke="#5e5e5e" stroke-width="1.5" fill="none"/><line x1="148.45" y1="290.20" x2="148.45" y2="430.00" stroke="#e0501e" stroke-width="1.3"/><line x1="162.95" y1="290.20" x2="162.95" y2="430.00" stroke="#e0501e" stroke-width="1.9" stroke-dasharray="2.4 6.17" stroke-dashoffset="-1.00"/><line x1="233.85" y1="290.20" x2="233.85" y2="430.00" stroke="#3c78dc" stroke-width="1.9" stroke-dasharray="2.4 6.17" stroke-dashoffset="-1.00"/><line x1="425.55" y1="290.20" x2="425.55" y2="430.00" stroke="#e0501e" stroke-width="1.3"/><line x1="442.00" y1="290.20" x2="442.00" y2="430.00" stroke="#e0501e" stroke-width="1.9" stroke-dasharray="2.4 6.17" stroke-dashoffset="-1.00"/><line x1="148.45" y1="439.70" x2="148.45" y2="579.50" stroke="#e0501e" stroke-width="1.3"/><line x1="162.95" y1="439.70" x2="162.95" y2="579.50" stroke="#e0501e" stroke-width="1.9" stroke-dasharray="2.4 6.17" stroke-dashoffset="-1.00"/><line x1="233.85" y1="439.70" x2="233.85" y2="579.50" stroke="#3c78dc" stroke-width="1.9" stroke-dasharray="2.4 6.17" stroke-dashoffset="-1.00"/><line x1="425.55" y1="439.70" x2="425.55" y2="579.50" stroke="#e0501e" stroke-width="1.3"/><line x1="442.00" y1="439.70" x2="442.00" y2="579.50" stroke="#e0501e" stroke-width="1.9" stroke-dasharray="2.4 6.17" stroke-dashoffset="-1.00"/><line x1="148.45" y1="589.00" x2="148.45" y2="728.70" stroke="#e0501e" stroke-width="1.3"/><line x1="162.95" y1="589.00" x2="162.95" y2="728.70" stroke="#e0501e" stroke-width="1.9" stroke-dasharray="2.4 6.17" stroke-dashoffset="-1.00"/><line x1="233.85" y1="589.00" x2="233.85" y2="728.70" stroke="#3c78dc" stroke-width="1.9" stroke-dasharray="2.4 6.17" stroke-dashoffset="-1.00"/><line x1="425.55" y1="589.00" x2="425.55" y2="728.70" stroke="#e0501e" stroke-width="1.3"/><line x1="442.00" y1="589.00" x2="442.00" y2="728.70" stroke="#e0501e" stroke-width="1.9" stroke-dasharray="2.4 6.17" stroke-dashoffset="-1.00"/><text transform="translate(91.70,300.90) scale(1.0,1)" font-size="17.6" text-anchor="end" fill="#000" >100.000</text><text transform="translate(91.70,324.20) scale(1.0,1)" font-size="17.6" text-anchor="end" fill="#000" >10.000</text><text transform="translate(91.70,352.40) scale(1.0,1)" font-size="17.6" text-anchor="end" fill="#000" >1.000</text><text transform="translate(91.70,380.70) scale(1.0,1)" font-size="17.6" text-anchor="end" fill="#000" >0.100</text><text transform="translate(91.70,408.90) scale(1.0,1)" font-size="17.6" text-anchor="end" fill="#000" >0.010</text><text transform="translate(91.70,430.40) scale(1.0,1)" font-size="17.6" text-anchor="end" fill="#000" >0.001</text><text transform="translate(91.70,450.60) scale(1.0,1)" font-size="17.6" text-anchor="end" fill="#000" >1.0</text><text transform="translate(91.70,473.80) scale(1.0,1)" font-size="17.6" text-anchor="end" fill="#000" >0.8</text><text transform="translate(91.70,501.70) scale(1.0,1)" font-size="17.6" text-anchor="end" fill="#000" >0.6</text><text transform="translate(91.70,529.70) scale(1.0,1)" font-size="17.6" text-anchor="end" fill="#000" >0.4</text><text transform="translate(91.70,557.60) scale(1.0,1)" font-size="17.6" text-anchor="end" fill="#000" >0.2</text><text transform="translate(91.70,579.80) scale(1.0,1)" font-size="17.6" text-anchor="end" fill="#000" >0.0</text><text transform="translate(91.70,626.80) scale(1.0,1)" font-size="17.6" text-anchor="end" fill="#000" >100</text><text transform="translate(91.70,665.50) scale(1.0,1)" font-size="17.6" text-anchor="end" fill="#000" >0</text><text transform="translate(91.70,704.60) scale(1.0,1)" font-size="17.6" text-anchor="end" fill="#000" >−100</text><text transform="translate(97.00,752.00) scale(1.0,1)" font-size="17.6" text-anchor="middle" fill="#000" >0</text><text transform="translate(163.90,752.00) scale(1.0,1)" font-size="17.6" text-anchor="middle" fill="#000" >5</text><text transform="translate(230.80,752.00) scale(1.0,1)" font-size="17.6" text-anchor="middle" fill="#000" >10</text><text transform="translate(297.70,752.00) scale(1.0,1)" font-size="17.6" text-anchor="middle" fill="#000" >15</text><text transform="translate(202.40,771.80) scale(1.035,1)" font-size="17.6" text-anchor="middle" fill="#000" >r [arcsec]</text><text transform="translate(377.70,300.90) scale(1.0,1)" font-size="17.6" text-anchor="end" fill="#000" >100.000</text><text transform="translate(377.70,324.20) scale(1.0,1)" font-size="17.6" text-anchor="end" fill="#000" >10.000</text><text transform="translate(377.70,352.40) scale(1.0,1)" font-size="17.6" text-anchor="end" fill="#000" >1.000</text><text transform="translate(377.70,380.70) scale(1.0,1)" font-size="17.6" text-anchor="end" fill="#000" >0.100</text><text transform="translate(377.70,408.90) scale(1.0,1)" font-size="17.6" text-anchor="end" fill="#000" >0.010</text><text transform="translate(377.70,430.40) scale(1.0,1)" font-size="17.6" text-anchor="end" fill="#000" >0.001</text><text transform="translate(377.70,450.60) scale(1.0,1)" font-size="17.6" text-anchor="end" fill="#000" >1.0</text><text transform="translate(377.70,473.80) scale(1.0,1)" font-size="17.6" text-anchor="end" fill="#000" >0.8</text><text transform="translate(377.70,501.70) scale(1.0,1)" font-size="17.6" text-anchor="end" fill="#000" >0.6</text><text transform="translate(377.70,529.70) scale(1.0,1)" font-size="17.6" text-anchor="end" fill="#000" >0.4</text><text transform="translate(377.70,557.60) scale(1.0,1)" font-size="17.6" text-anchor="end" fill="#000" >0.2</text><text transform="translate(377.70,579.80) scale(1.0,1)" font-size="17.6" text-anchor="end" fill="#000" >0.0</text><text transform="translate(377.70,626.80) scale(1.0,1)" font-size="17.6" text-anchor="end" fill="#000" >100</text><text transform="translate(377.70,665.50) scale(1.0,1)" font-size="17.6" text-anchor="end" fill="#000" >0</text><text transform="translate(377.70,704.60) scale(1.0,1)" font-size="17.6" text-anchor="end" fill="#000" >−100</text><text transform="translate(383.30,752.00) scale(1.0,1)" font-size="17.6" text-anchor="middle" fill="#000" >0</text><text transform="translate(450.20,752.00) scale(1.0,1)" font-size="17.6" text-anchor="middle" fill="#000" >5</text><text transform="translate(517.10,752.00) scale(1.0,1)" font-size="17.6" text-anchor="middle" fill="#000" >10</text><text transform="translate(584.00,752.00) scale(1.0,1)" font-size="17.6" text-anchor="middle" fill="#000" >15</text><text transform="translate(488.70,771.80) scale(1.035,1)" font-size="17.6" text-anchor="middle" fill="#000" >r [arcsec]</text><text transform="translate(109.70,48.30) scale(1.0,1)" font-size="17.6" text-anchor="start" fill="#fff" >(a)</text><text transform="translate(109.70,311.80) scale(1.0,1)" font-size="17.6" text-anchor="start" fill="#000" >(b)</text><text transform="translate(109.70,461.50) scale(1.0,1)" font-size="17.6" text-anchor="start" fill="#000" >(c)</text><text transform="translate(109.70,610.90) scale(1.0,1)" font-size="17.6" text-anchor="start" fill="#000" >(d)</text><text transform="translate(12.70,360.50) rotate(-90) scale(1.0,1)" font-size="17.6" text-anchor="middle" fill="#000" >I</text><text transform="translate(53.50,510.00) rotate(-90) scale(1.0,1)" font-size="17.6" text-anchor="middle" fill="#000" >ε</text><text transform="translate(37.20,658.60) rotate(-90) scale(1.06,1)" font-size="17.6" text-anchor="middle" fill="#000" >PA</text></svg></body></html>
